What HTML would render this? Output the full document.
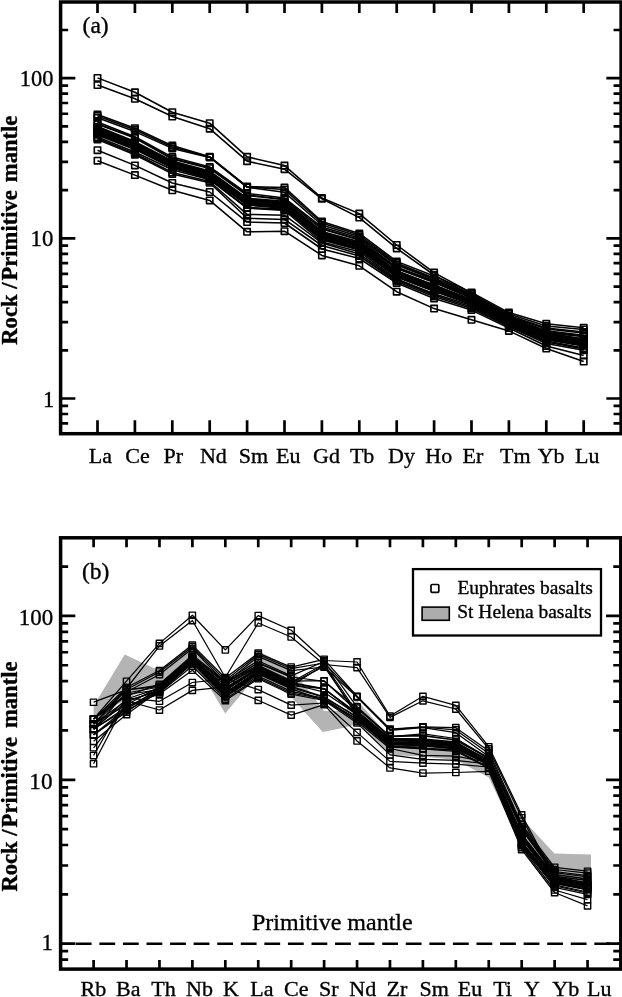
<!DOCTYPE html>
<html lang="en"><head><meta charset="utf-8"><title>REE and multi-element diagrams</title>
<style>html,body{margin:0;padding:0;background:#fff;}svg{display:block;}text{font-family:"Liberation Serif", "Times New Roman", Times, serif;fill:#000;stroke:#000;stroke-width:0.35px;stroke-linejoin:round;}svg{opacity:0.999;will-change:transform;}</style></head><body>
<svg width="622" height="997" viewBox="0 0 622 997">
<rect width="622" height="997" fill="#fff"/>
<polygon points="93.6,706.0 124.7,654.5 159.5,670.7 192.4,643.0 225.3,690.0 258.2,651.0 291.2,668.0 324.1,711.0 343.7,711.0 357.0,700.0 390.0,738.0 422.9,740.0 455.8,745.0 488.8,757.0 525.5,822.3 554.4,853.4 591.0,854.4 591.0,886.0 554.6,880.0 521.7,846.0 488.8,777.5 455.8,760.0 422.9,756.5 390.0,755.0 357.0,724.0 343.7,727.8 322.7,732.1 291.2,697.0 258.2,674.0 225.2,713.6 192.4,658.0 159.5,688.0 147.0,688.5 126.5,699.0 120.0,703.0 93.6,716.0" fill="#b4b4b4"/>
<g fill="none" stroke="#000" stroke-width="1.55" stroke-linejoin="round">
<path d="M97.5 77.9 L134.9 92.3 L172.3 112.2 L209.7 123.2 L247.1 156.8 L284.5 165.6 L321.9 198.0 L359.3 213.6 L396.7 245.0 L434.1 272.6 L471.5 293.0 L508.9 316.0 L546.3 333.0 L583.7 339.0"/>
<rect x="94.3" y="74.7" width="6.4" height="6.4" stroke-width="1.6"/>
<rect x="131.7" y="89.1" width="6.4" height="6.4" stroke-width="1.6"/>
<rect x="169.1" y="109.0" width="6.4" height="6.4" stroke-width="1.6"/>
<rect x="206.5" y="120.0" width="6.4" height="6.4" stroke-width="1.6"/>
<rect x="243.9" y="153.6" width="6.4" height="6.4" stroke-width="1.6"/>
<rect x="281.3" y="162.4" width="6.4" height="6.4" stroke-width="1.6"/>
<rect x="318.7" y="194.8" width="6.4" height="6.4" stroke-width="1.6"/>
<rect x="356.1" y="210.4" width="6.4" height="6.4" stroke-width="1.6"/>
<rect x="393.5" y="241.8" width="6.4" height="6.4" stroke-width="1.6"/>
<rect x="430.9" y="269.4" width="6.4" height="6.4" stroke-width="1.6"/>
<rect x="468.3" y="289.8" width="6.4" height="6.4" stroke-width="1.6"/>
<rect x="505.7" y="312.8" width="6.4" height="6.4" stroke-width="1.6"/>
<rect x="543.1" y="329.8" width="6.4" height="6.4" stroke-width="1.6"/>
<rect x="580.5" y="335.8" width="6.4" height="6.4" stroke-width="1.6"/>
<path d="M97.5 85.1 L134.9 98.8 L172.3 116.5 L209.7 128.7 L247.1 161.2 L284.5 169.2 L321.9 198.8 L359.3 217.6 L396.7 248.4 L434.1 275.0 L471.5 295.5 L508.9 318.5 L546.3 336.0 L583.7 342.5"/>
<rect x="94.3" y="81.9" width="6.4" height="6.4" stroke-width="1.6"/>
<rect x="131.7" y="95.6" width="6.4" height="6.4" stroke-width="1.6"/>
<rect x="169.1" y="113.3" width="6.4" height="6.4" stroke-width="1.6"/>
<rect x="206.5" y="125.5" width="6.4" height="6.4" stroke-width="1.6"/>
<rect x="243.9" y="158.0" width="6.4" height="6.4" stroke-width="1.6"/>
<rect x="281.3" y="166.0" width="6.4" height="6.4" stroke-width="1.6"/>
<rect x="318.7" y="195.6" width="6.4" height="6.4" stroke-width="1.6"/>
<rect x="356.1" y="214.4" width="6.4" height="6.4" stroke-width="1.6"/>
<rect x="393.5" y="245.2" width="6.4" height="6.4" stroke-width="1.6"/>
<rect x="430.9" y="271.8" width="6.4" height="6.4" stroke-width="1.6"/>
<rect x="468.3" y="292.3" width="6.4" height="6.4" stroke-width="1.6"/>
<rect x="505.7" y="315.3" width="6.4" height="6.4" stroke-width="1.6"/>
<rect x="543.1" y="332.8" width="6.4" height="6.4" stroke-width="1.6"/>
<rect x="580.5" y="339.3" width="6.4" height="6.4" stroke-width="1.6"/>
<path d="M97.5 114.6 L134.9 128.2 L172.3 145.6 L209.7 156.7 L247.1 186.6 L284.5 187.4 L321.9 221.5 L359.3 233.4 L396.7 261.4 L434.1 276.0 L471.5 292.4 L508.9 312.6 L546.3 323.8 L583.7 327.7"/>
<rect x="94.3" y="111.4" width="6.4" height="6.4" stroke-width="1.6"/>
<rect x="131.7" y="125.0" width="6.4" height="6.4" stroke-width="1.6"/>
<rect x="169.1" y="142.4" width="6.4" height="6.4" stroke-width="1.6"/>
<rect x="206.5" y="153.5" width="6.4" height="6.4" stroke-width="1.6"/>
<rect x="243.9" y="183.4" width="6.4" height="6.4" stroke-width="1.6"/>
<rect x="281.3" y="184.2" width="6.4" height="6.4" stroke-width="1.6"/>
<rect x="318.7" y="218.3" width="6.4" height="6.4" stroke-width="1.6"/>
<rect x="356.1" y="230.2" width="6.4" height="6.4" stroke-width="1.6"/>
<rect x="393.5" y="258.2" width="6.4" height="6.4" stroke-width="1.6"/>
<rect x="430.9" y="272.8" width="6.4" height="6.4" stroke-width="1.6"/>
<rect x="468.3" y="289.2" width="6.4" height="6.4" stroke-width="1.6"/>
<rect x="505.7" y="309.4" width="6.4" height="6.4" stroke-width="1.6"/>
<rect x="543.1" y="320.6" width="6.4" height="6.4" stroke-width="1.6"/>
<rect x="580.5" y="324.5" width="6.4" height="6.4" stroke-width="1.6"/>
<path d="M97.5 116.0 L134.9 129.8 L172.3 147.0 L209.7 157.0 L247.1 186.9 L284.5 189.6 L321.9 223.0 L359.3 235.0 L396.7 263.0 L434.1 278.0 L471.5 294.0 L508.9 314.0 L546.3 326.0 L583.7 329.5"/>
<rect x="94.3" y="112.8" width="6.4" height="6.4" stroke-width="1.6"/>
<rect x="131.7" y="126.6" width="6.4" height="6.4" stroke-width="1.6"/>
<rect x="169.1" y="143.8" width="6.4" height="6.4" stroke-width="1.6"/>
<rect x="206.5" y="153.8" width="6.4" height="6.4" stroke-width="1.6"/>
<rect x="243.9" y="183.7" width="6.4" height="6.4" stroke-width="1.6"/>
<rect x="281.3" y="186.4" width="6.4" height="6.4" stroke-width="1.6"/>
<rect x="318.7" y="219.8" width="6.4" height="6.4" stroke-width="1.6"/>
<rect x="356.1" y="231.8" width="6.4" height="6.4" stroke-width="1.6"/>
<rect x="393.5" y="259.8" width="6.4" height="6.4" stroke-width="1.6"/>
<rect x="430.9" y="274.8" width="6.4" height="6.4" stroke-width="1.6"/>
<rect x="468.3" y="290.8" width="6.4" height="6.4" stroke-width="1.6"/>
<rect x="505.7" y="310.8" width="6.4" height="6.4" stroke-width="1.6"/>
<rect x="543.1" y="322.8" width="6.4" height="6.4" stroke-width="1.6"/>
<rect x="580.5" y="326.3" width="6.4" height="6.4" stroke-width="1.6"/>
<path d="M97.5 117.8 L134.9 131.6 L172.3 148.4 L209.7 157.4 L247.1 187.3 L284.5 192.3 L321.9 225.0 L359.3 236.6 L396.7 264.5 L434.1 279.5 L471.5 295.5 L508.9 315.5 L546.3 328.0 L583.7 332.0"/>
<rect x="94.3" y="114.6" width="6.4" height="6.4" stroke-width="1.6"/>
<rect x="131.7" y="128.4" width="6.4" height="6.4" stroke-width="1.6"/>
<rect x="169.1" y="145.2" width="6.4" height="6.4" stroke-width="1.6"/>
<rect x="206.5" y="154.2" width="6.4" height="6.4" stroke-width="1.6"/>
<rect x="243.9" y="184.1" width="6.4" height="6.4" stroke-width="1.6"/>
<rect x="281.3" y="189.1" width="6.4" height="6.4" stroke-width="1.6"/>
<rect x="318.7" y="221.8" width="6.4" height="6.4" stroke-width="1.6"/>
<rect x="356.1" y="233.4" width="6.4" height="6.4" stroke-width="1.6"/>
<rect x="393.5" y="261.3" width="6.4" height="6.4" stroke-width="1.6"/>
<rect x="430.9" y="276.3" width="6.4" height="6.4" stroke-width="1.6"/>
<rect x="468.3" y="292.3" width="6.4" height="6.4" stroke-width="1.6"/>
<rect x="505.7" y="312.3" width="6.4" height="6.4" stroke-width="1.6"/>
<rect x="543.1" y="324.8" width="6.4" height="6.4" stroke-width="1.6"/>
<rect x="580.5" y="328.8" width="6.4" height="6.4" stroke-width="1.6"/>
<path d="M97.5 122.0 L134.9 136.8 L172.3 157.1 L209.7 167.0 L247.1 193.5 L284.5 198.0 L321.9 227.0 L359.3 238.0 L396.7 265.0 L434.1 279.1 L471.5 296.0 L508.9 316.0 L546.3 329.0 L583.7 333.1"/>
<rect x="94.3" y="118.8" width="6.4" height="6.4" stroke-width="1.6"/>
<rect x="131.7" y="133.6" width="6.4" height="6.4" stroke-width="1.6"/>
<rect x="169.1" y="153.9" width="6.4" height="6.4" stroke-width="1.6"/>
<rect x="206.5" y="163.8" width="6.4" height="6.4" stroke-width="1.6"/>
<rect x="243.9" y="190.3" width="6.4" height="6.4" stroke-width="1.6"/>
<rect x="281.3" y="194.8" width="6.4" height="6.4" stroke-width="1.6"/>
<rect x="318.7" y="223.8" width="6.4" height="6.4" stroke-width="1.6"/>
<rect x="356.1" y="234.8" width="6.4" height="6.4" stroke-width="1.6"/>
<rect x="393.5" y="261.8" width="6.4" height="6.4" stroke-width="1.6"/>
<rect x="430.9" y="275.9" width="6.4" height="6.4" stroke-width="1.6"/>
<rect x="468.3" y="292.8" width="6.4" height="6.4" stroke-width="1.6"/>
<rect x="505.7" y="312.8" width="6.4" height="6.4" stroke-width="1.6"/>
<rect x="543.1" y="325.8" width="6.4" height="6.4" stroke-width="1.6"/>
<rect x="580.5" y="329.9" width="6.4" height="6.4" stroke-width="1.6"/>
<path d="M97.5 124.0 L134.9 137.9 L172.3 158.8 L209.7 168.2 L247.1 195.3 L284.5 199.5 L321.9 228.7 L359.3 239.8 L396.7 267.4 L434.1 281.0 L471.5 296.9 L508.9 317.3 L546.3 330.9 L583.7 335.4" stroke-width="2.0"/>
<rect x="94.3" y="120.8" width="6.4" height="6.4" stroke-width="1.6"/>
<rect x="131.7" y="134.7" width="6.4" height="6.4" stroke-width="1.6"/>
<rect x="169.1" y="155.6" width="6.4" height="6.4" stroke-width="1.6"/>
<rect x="206.5" y="165.0" width="6.4" height="6.4" stroke-width="1.6"/>
<rect x="243.9" y="192.1" width="6.4" height="6.4" stroke-width="1.6"/>
<rect x="281.3" y="196.3" width="6.4" height="6.4" stroke-width="1.6"/>
<rect x="318.7" y="225.5" width="6.4" height="6.4" stroke-width="1.6"/>
<rect x="356.1" y="236.6" width="6.4" height="6.4" stroke-width="1.6"/>
<rect x="393.5" y="264.2" width="6.4" height="6.4" stroke-width="1.6"/>
<rect x="430.9" y="277.8" width="6.4" height="6.4" stroke-width="1.6"/>
<rect x="468.3" y="293.7" width="6.4" height="6.4" stroke-width="1.6"/>
<rect x="505.7" y="314.1" width="6.4" height="6.4" stroke-width="1.6"/>
<rect x="543.1" y="327.7" width="6.4" height="6.4" stroke-width="1.6"/>
<rect x="580.5" y="332.2" width="6.4" height="6.4" stroke-width="1.6"/>
<path d="M97.5 126.7 L134.9 141.8 L172.3 161.1 L209.7 171.2 L247.1 198.6 L284.5 201.4 L321.9 231.6 L359.3 241.9 L396.7 268.4 L434.1 282.3 L471.5 298.1 L508.9 318.3 L546.3 332.5 L583.7 336.6" stroke-width="2.0"/>
<rect x="94.3" y="123.5" width="6.4" height="6.4" stroke-width="1.6"/>
<rect x="131.7" y="138.6" width="6.4" height="6.4" stroke-width="1.6"/>
<rect x="169.1" y="157.9" width="6.4" height="6.4" stroke-width="1.6"/>
<rect x="206.5" y="168.0" width="6.4" height="6.4" stroke-width="1.6"/>
<rect x="243.9" y="195.4" width="6.4" height="6.4" stroke-width="1.6"/>
<rect x="281.3" y="198.2" width="6.4" height="6.4" stroke-width="1.6"/>
<rect x="318.7" y="228.4" width="6.4" height="6.4" stroke-width="1.6"/>
<rect x="356.1" y="238.7" width="6.4" height="6.4" stroke-width="1.6"/>
<rect x="393.5" y="265.2" width="6.4" height="6.4" stroke-width="1.6"/>
<rect x="430.9" y="279.1" width="6.4" height="6.4" stroke-width="1.6"/>
<rect x="468.3" y="294.9" width="6.4" height="6.4" stroke-width="1.6"/>
<rect x="505.7" y="315.1" width="6.4" height="6.4" stroke-width="1.6"/>
<rect x="543.1" y="329.3" width="6.4" height="6.4" stroke-width="1.6"/>
<rect x="580.5" y="333.4" width="6.4" height="6.4" stroke-width="1.6"/>
<path d="M97.5 127.6 L134.9 143.1 L172.3 162.5 L209.7 172.1 L247.1 199.1 L284.5 202.9 L321.9 233.0 L359.3 243.4 L396.7 271.0 L434.1 285.5 L471.5 300.0 L508.9 319.9 L546.3 334.5 L583.7 339.6" stroke-width="2.0"/>
<rect x="94.3" y="124.4" width="6.4" height="6.4" stroke-width="1.6"/>
<rect x="131.7" y="139.9" width="6.4" height="6.4" stroke-width="1.6"/>
<rect x="169.1" y="159.3" width="6.4" height="6.4" stroke-width="1.6"/>
<rect x="206.5" y="168.9" width="6.4" height="6.4" stroke-width="1.6"/>
<rect x="243.9" y="195.9" width="6.4" height="6.4" stroke-width="1.6"/>
<rect x="281.3" y="199.7" width="6.4" height="6.4" stroke-width="1.6"/>
<rect x="318.7" y="229.8" width="6.4" height="6.4" stroke-width="1.6"/>
<rect x="356.1" y="240.2" width="6.4" height="6.4" stroke-width="1.6"/>
<rect x="393.5" y="267.8" width="6.4" height="6.4" stroke-width="1.6"/>
<rect x="430.9" y="282.3" width="6.4" height="6.4" stroke-width="1.6"/>
<rect x="468.3" y="296.8" width="6.4" height="6.4" stroke-width="1.6"/>
<rect x="505.7" y="316.7" width="6.4" height="6.4" stroke-width="1.6"/>
<rect x="543.1" y="331.3" width="6.4" height="6.4" stroke-width="1.6"/>
<rect x="580.5" y="336.4" width="6.4" height="6.4" stroke-width="1.6"/>
<path d="M97.5 128.5 L134.9 143.4 L172.3 162.7 L209.7 173.1 L247.1 199.8 L284.5 202.8 L321.9 232.4 L359.3 244.1 L396.7 271.6 L434.1 285.2 L471.5 300.3 L508.9 319.4 L546.3 333.6 L583.7 339.8" stroke-width="2.0"/>
<rect x="94.3" y="125.3" width="6.4" height="6.4" stroke-width="1.6"/>
<rect x="131.7" y="140.2" width="6.4" height="6.4" stroke-width="1.6"/>
<rect x="169.1" y="159.5" width="6.4" height="6.4" stroke-width="1.6"/>
<rect x="206.5" y="169.9" width="6.4" height="6.4" stroke-width="1.6"/>
<rect x="243.9" y="196.6" width="6.4" height="6.4" stroke-width="1.6"/>
<rect x="281.3" y="199.6" width="6.4" height="6.4" stroke-width="1.6"/>
<rect x="318.7" y="229.2" width="6.4" height="6.4" stroke-width="1.6"/>
<rect x="356.1" y="240.9" width="6.4" height="6.4" stroke-width="1.6"/>
<rect x="393.5" y="268.4" width="6.4" height="6.4" stroke-width="1.6"/>
<rect x="430.9" y="282.0" width="6.4" height="6.4" stroke-width="1.6"/>
<rect x="468.3" y="297.1" width="6.4" height="6.4" stroke-width="1.6"/>
<rect x="505.7" y="316.2" width="6.4" height="6.4" stroke-width="1.6"/>
<rect x="543.1" y="330.4" width="6.4" height="6.4" stroke-width="1.6"/>
<rect x="580.5" y="336.6" width="6.4" height="6.4" stroke-width="1.6"/>
<path d="M97.5 129.3 L134.9 144.2 L172.3 163.6 L209.7 173.3 L247.1 200.6 L284.5 204.1 L321.9 235.0 L359.3 245.1 L396.7 272.1 L434.1 286.0 L471.5 300.4 L508.9 320.2 L546.3 334.9 L583.7 340.9" stroke-width="2.0"/>
<rect x="94.3" y="126.1" width="6.4" height="6.4" stroke-width="1.6"/>
<rect x="131.7" y="141.0" width="6.4" height="6.4" stroke-width="1.6"/>
<rect x="169.1" y="160.4" width="6.4" height="6.4" stroke-width="1.6"/>
<rect x="206.5" y="170.1" width="6.4" height="6.4" stroke-width="1.6"/>
<rect x="243.9" y="197.4" width="6.4" height="6.4" stroke-width="1.6"/>
<rect x="281.3" y="200.9" width="6.4" height="6.4" stroke-width="1.6"/>
<rect x="318.7" y="231.8" width="6.4" height="6.4" stroke-width="1.6"/>
<rect x="356.1" y="241.9" width="6.4" height="6.4" stroke-width="1.6"/>
<rect x="393.5" y="268.9" width="6.4" height="6.4" stroke-width="1.6"/>
<rect x="430.9" y="282.8" width="6.4" height="6.4" stroke-width="1.6"/>
<rect x="468.3" y="297.2" width="6.4" height="6.4" stroke-width="1.6"/>
<rect x="505.7" y="317.0" width="6.4" height="6.4" stroke-width="1.6"/>
<rect x="543.1" y="331.7" width="6.4" height="6.4" stroke-width="1.6"/>
<rect x="580.5" y="337.7" width="6.4" height="6.4" stroke-width="1.6"/>
<path d="M97.5 129.5 L134.9 143.9 L172.3 163.4 L209.7 174.2 L247.1 202.5 L284.5 204.6 L321.9 234.5 L359.3 245.3 L396.7 272.2 L434.1 286.9 L471.5 301.1 L508.9 320.7 L546.3 335.8 L583.7 341.6" stroke-width="2.0"/>
<rect x="94.3" y="126.3" width="6.4" height="6.4" stroke-width="1.6"/>
<rect x="131.7" y="140.7" width="6.4" height="6.4" stroke-width="1.6"/>
<rect x="169.1" y="160.2" width="6.4" height="6.4" stroke-width="1.6"/>
<rect x="206.5" y="171.0" width="6.4" height="6.4" stroke-width="1.6"/>
<rect x="243.9" y="199.3" width="6.4" height="6.4" stroke-width="1.6"/>
<rect x="281.3" y="201.4" width="6.4" height="6.4" stroke-width="1.6"/>
<rect x="318.7" y="231.3" width="6.4" height="6.4" stroke-width="1.6"/>
<rect x="356.1" y="242.1" width="6.4" height="6.4" stroke-width="1.6"/>
<rect x="393.5" y="269.0" width="6.4" height="6.4" stroke-width="1.6"/>
<rect x="430.9" y="283.7" width="6.4" height="6.4" stroke-width="1.6"/>
<rect x="468.3" y="297.9" width="6.4" height="6.4" stroke-width="1.6"/>
<rect x="505.7" y="317.5" width="6.4" height="6.4" stroke-width="1.6"/>
<rect x="543.1" y="332.6" width="6.4" height="6.4" stroke-width="1.6"/>
<rect x="580.5" y="338.4" width="6.4" height="6.4" stroke-width="1.6"/>
<path d="M97.5 130.7 L134.9 144.7 L172.3 163.9 L209.7 174.6 L247.1 202.8 L284.5 205.4 L321.9 235.4 L359.3 246.5 L396.7 272.8 L434.1 288.0 L471.5 302.3 L508.9 321.7 L546.3 336.8 L583.7 342.2" stroke-width="2.0"/>
<rect x="94.3" y="127.5" width="6.4" height="6.4" stroke-width="1.6"/>
<rect x="131.7" y="141.5" width="6.4" height="6.4" stroke-width="1.6"/>
<rect x="169.1" y="160.7" width="6.4" height="6.4" stroke-width="1.6"/>
<rect x="206.5" y="171.4" width="6.4" height="6.4" stroke-width="1.6"/>
<rect x="243.9" y="199.6" width="6.4" height="6.4" stroke-width="1.6"/>
<rect x="281.3" y="202.2" width="6.4" height="6.4" stroke-width="1.6"/>
<rect x="318.7" y="232.2" width="6.4" height="6.4" stroke-width="1.6"/>
<rect x="356.1" y="243.3" width="6.4" height="6.4" stroke-width="1.6"/>
<rect x="393.5" y="269.6" width="6.4" height="6.4" stroke-width="1.6"/>
<rect x="430.9" y="284.8" width="6.4" height="6.4" stroke-width="1.6"/>
<rect x="468.3" y="299.1" width="6.4" height="6.4" stroke-width="1.6"/>
<rect x="505.7" y="318.5" width="6.4" height="6.4" stroke-width="1.6"/>
<rect x="543.1" y="333.6" width="6.4" height="6.4" stroke-width="1.6"/>
<rect x="580.5" y="339.0" width="6.4" height="6.4" stroke-width="1.6"/>
<path d="M97.5 131.6 L134.9 146.4 L172.3 165.9 L209.7 175.0 L247.1 202.4 L284.5 205.2 L321.9 236.3 L359.3 246.3 L396.7 272.9 L434.1 288.0 L471.5 302.6 L508.9 321.7 L546.3 336.5 L583.7 342.7" stroke-width="2.0"/>
<rect x="94.3" y="128.4" width="6.4" height="6.4" stroke-width="1.6"/>
<rect x="131.7" y="143.2" width="6.4" height="6.4" stroke-width="1.6"/>
<rect x="169.1" y="162.7" width="6.4" height="6.4" stroke-width="1.6"/>
<rect x="206.5" y="171.8" width="6.4" height="6.4" stroke-width="1.6"/>
<rect x="243.9" y="199.2" width="6.4" height="6.4" stroke-width="1.6"/>
<rect x="281.3" y="202.0" width="6.4" height="6.4" stroke-width="1.6"/>
<rect x="318.7" y="233.1" width="6.4" height="6.4" stroke-width="1.6"/>
<rect x="356.1" y="243.1" width="6.4" height="6.4" stroke-width="1.6"/>
<rect x="393.5" y="269.7" width="6.4" height="6.4" stroke-width="1.6"/>
<rect x="430.9" y="284.8" width="6.4" height="6.4" stroke-width="1.6"/>
<rect x="468.3" y="299.4" width="6.4" height="6.4" stroke-width="1.6"/>
<rect x="505.7" y="318.5" width="6.4" height="6.4" stroke-width="1.6"/>
<rect x="543.1" y="333.3" width="6.4" height="6.4" stroke-width="1.6"/>
<rect x="580.5" y="339.5" width="6.4" height="6.4" stroke-width="1.6"/>
<path d="M97.5 132.6 L134.9 146.6 L172.3 166.3 L209.7 175.7 L247.1 203.4 L284.5 206.0 L321.9 236.6 L359.3 246.7 L396.7 274.7 L434.1 289.0 L471.5 302.9 L508.9 322.6 L546.3 337.9 L583.7 343.9" stroke-width="2.0"/>
<rect x="94.3" y="129.4" width="6.4" height="6.4" stroke-width="1.6"/>
<rect x="131.7" y="143.4" width="6.4" height="6.4" stroke-width="1.6"/>
<rect x="169.1" y="163.1" width="6.4" height="6.4" stroke-width="1.6"/>
<rect x="206.5" y="172.5" width="6.4" height="6.4" stroke-width="1.6"/>
<rect x="243.9" y="200.2" width="6.4" height="6.4" stroke-width="1.6"/>
<rect x="281.3" y="202.8" width="6.4" height="6.4" stroke-width="1.6"/>
<rect x="318.7" y="233.4" width="6.4" height="6.4" stroke-width="1.6"/>
<rect x="356.1" y="243.5" width="6.4" height="6.4" stroke-width="1.6"/>
<rect x="393.5" y="271.5" width="6.4" height="6.4" stroke-width="1.6"/>
<rect x="430.9" y="285.8" width="6.4" height="6.4" stroke-width="1.6"/>
<rect x="468.3" y="299.7" width="6.4" height="6.4" stroke-width="1.6"/>
<rect x="505.7" y="319.4" width="6.4" height="6.4" stroke-width="1.6"/>
<rect x="543.1" y="334.7" width="6.4" height="6.4" stroke-width="1.6"/>
<rect x="580.5" y="340.7" width="6.4" height="6.4" stroke-width="1.6"/>
<path d="M97.5 132.3 L134.9 147.0 L172.3 166.5 L209.7 177.0 L247.1 204.4 L284.5 207.6 L321.9 238.0 L359.3 248.8 L396.7 275.2 L434.1 290.6 L471.5 303.7 L508.9 322.4 L546.3 338.1 L583.7 344.1" stroke-width="2.0"/>
<rect x="94.3" y="129.1" width="6.4" height="6.4" stroke-width="1.6"/>
<rect x="131.7" y="143.8" width="6.4" height="6.4" stroke-width="1.6"/>
<rect x="169.1" y="163.3" width="6.4" height="6.4" stroke-width="1.6"/>
<rect x="206.5" y="173.8" width="6.4" height="6.4" stroke-width="1.6"/>
<rect x="243.9" y="201.2" width="6.4" height="6.4" stroke-width="1.6"/>
<rect x="281.3" y="204.4" width="6.4" height="6.4" stroke-width="1.6"/>
<rect x="318.7" y="234.8" width="6.4" height="6.4" stroke-width="1.6"/>
<rect x="356.1" y="245.6" width="6.4" height="6.4" stroke-width="1.6"/>
<rect x="393.5" y="272.0" width="6.4" height="6.4" stroke-width="1.6"/>
<rect x="430.9" y="287.4" width="6.4" height="6.4" stroke-width="1.6"/>
<rect x="468.3" y="300.5" width="6.4" height="6.4" stroke-width="1.6"/>
<rect x="505.7" y="319.2" width="6.4" height="6.4" stroke-width="1.6"/>
<rect x="543.1" y="334.9" width="6.4" height="6.4" stroke-width="1.6"/>
<rect x="580.5" y="340.9" width="6.4" height="6.4" stroke-width="1.6"/>
<path d="M97.5 133.6 L134.9 148.2 L172.3 167.2 L209.7 177.2 L247.1 204.9 L284.5 207.9 L321.9 238.2 L359.3 249.2 L396.7 276.4 L434.1 290.6 L471.5 303.9 L508.9 323.1 L546.3 338.6 L583.7 345.4" stroke-width="2.0"/>
<rect x="94.3" y="130.4" width="6.4" height="6.4" stroke-width="1.6"/>
<rect x="131.7" y="145.0" width="6.4" height="6.4" stroke-width="1.6"/>
<rect x="169.1" y="164.0" width="6.4" height="6.4" stroke-width="1.6"/>
<rect x="206.5" y="174.0" width="6.4" height="6.4" stroke-width="1.6"/>
<rect x="243.9" y="201.7" width="6.4" height="6.4" stroke-width="1.6"/>
<rect x="281.3" y="204.7" width="6.4" height="6.4" stroke-width="1.6"/>
<rect x="318.7" y="235.0" width="6.4" height="6.4" stroke-width="1.6"/>
<rect x="356.1" y="246.0" width="6.4" height="6.4" stroke-width="1.6"/>
<rect x="393.5" y="273.2" width="6.4" height="6.4" stroke-width="1.6"/>
<rect x="430.9" y="287.4" width="6.4" height="6.4" stroke-width="1.6"/>
<rect x="468.3" y="300.7" width="6.4" height="6.4" stroke-width="1.6"/>
<rect x="505.7" y="319.9" width="6.4" height="6.4" stroke-width="1.6"/>
<rect x="543.1" y="335.4" width="6.4" height="6.4" stroke-width="1.6"/>
<rect x="580.5" y="342.2" width="6.4" height="6.4" stroke-width="1.6"/>
<path d="M97.5 134.7 L134.9 149.2 L172.3 167.8 L209.7 178.7 L247.1 207.7 L284.5 209.2 L321.9 239.8 L359.3 249.8 L396.7 276.7 L434.1 291.1 L471.5 304.1 L508.9 323.8 L546.3 339.6 L583.7 345.7" stroke-width="2.0"/>
<rect x="94.3" y="131.5" width="6.4" height="6.4" stroke-width="1.6"/>
<rect x="131.7" y="146.0" width="6.4" height="6.4" stroke-width="1.6"/>
<rect x="169.1" y="164.6" width="6.4" height="6.4" stroke-width="1.6"/>
<rect x="206.5" y="175.5" width="6.4" height="6.4" stroke-width="1.6"/>
<rect x="243.9" y="204.5" width="6.4" height="6.4" stroke-width="1.6"/>
<rect x="281.3" y="206.0" width="6.4" height="6.4" stroke-width="1.6"/>
<rect x="318.7" y="236.6" width="6.4" height="6.4" stroke-width="1.6"/>
<rect x="356.1" y="246.6" width="6.4" height="6.4" stroke-width="1.6"/>
<rect x="393.5" y="273.5" width="6.4" height="6.4" stroke-width="1.6"/>
<rect x="430.9" y="287.9" width="6.4" height="6.4" stroke-width="1.6"/>
<rect x="468.3" y="300.9" width="6.4" height="6.4" stroke-width="1.6"/>
<rect x="505.7" y="320.6" width="6.4" height="6.4" stroke-width="1.6"/>
<rect x="543.1" y="336.4" width="6.4" height="6.4" stroke-width="1.6"/>
<rect x="580.5" y="342.5" width="6.4" height="6.4" stroke-width="1.6"/>
<path d="M97.5 137.0 L134.9 152.0 L172.3 169.8 L209.7 179.7 L247.1 208.1 L284.5 210.5 L321.9 242.0 L359.3 251.7 L396.7 279.0 L434.1 293.8 L471.5 305.5 L508.9 325.0 L546.3 340.9 L583.7 348.0"/>
<rect x="94.3" y="133.8" width="6.4" height="6.4" stroke-width="1.6"/>
<rect x="131.7" y="148.8" width="6.4" height="6.4" stroke-width="1.6"/>
<rect x="169.1" y="166.6" width="6.4" height="6.4" stroke-width="1.6"/>
<rect x="206.5" y="176.5" width="6.4" height="6.4" stroke-width="1.6"/>
<rect x="243.9" y="204.9" width="6.4" height="6.4" stroke-width="1.6"/>
<rect x="281.3" y="207.3" width="6.4" height="6.4" stroke-width="1.6"/>
<rect x="318.7" y="238.8" width="6.4" height="6.4" stroke-width="1.6"/>
<rect x="356.1" y="248.5" width="6.4" height="6.4" stroke-width="1.6"/>
<rect x="393.5" y="275.8" width="6.4" height="6.4" stroke-width="1.6"/>
<rect x="430.9" y="290.6" width="6.4" height="6.4" stroke-width="1.6"/>
<rect x="468.3" y="302.3" width="6.4" height="6.4" stroke-width="1.6"/>
<rect x="505.7" y="321.8" width="6.4" height="6.4" stroke-width="1.6"/>
<rect x="543.1" y="337.7" width="6.4" height="6.4" stroke-width="1.6"/>
<rect x="580.5" y="344.8" width="6.4" height="6.4" stroke-width="1.6"/>
<path d="M97.5 138.5 L134.9 153.5 L172.3 172.5 L209.7 181.5 L247.1 214.4 L284.5 215.2 L321.9 243.0 L359.3 254.0 L396.7 280.0 L434.1 295.0 L471.5 307.0 L508.9 325.5 L546.3 342.0 L583.7 349.0"/>
<rect x="94.3" y="135.3" width="6.4" height="6.4" stroke-width="1.6"/>
<rect x="131.7" y="150.3" width="6.4" height="6.4" stroke-width="1.6"/>
<rect x="169.1" y="169.3" width="6.4" height="6.4" stroke-width="1.6"/>
<rect x="206.5" y="178.3" width="6.4" height="6.4" stroke-width="1.6"/>
<rect x="243.9" y="211.2" width="6.4" height="6.4" stroke-width="1.6"/>
<rect x="281.3" y="212.0" width="6.4" height="6.4" stroke-width="1.6"/>
<rect x="318.7" y="239.8" width="6.4" height="6.4" stroke-width="1.6"/>
<rect x="356.1" y="250.8" width="6.4" height="6.4" stroke-width="1.6"/>
<rect x="393.5" y="276.8" width="6.4" height="6.4" stroke-width="1.6"/>
<rect x="430.9" y="291.8" width="6.4" height="6.4" stroke-width="1.6"/>
<rect x="468.3" y="303.8" width="6.4" height="6.4" stroke-width="1.6"/>
<rect x="505.7" y="322.3" width="6.4" height="6.4" stroke-width="1.6"/>
<rect x="543.1" y="338.8" width="6.4" height="6.4" stroke-width="1.6"/>
<rect x="580.5" y="345.8" width="6.4" height="6.4" stroke-width="1.6"/>
<path d="M97.5 139.6 L134.9 154.7 L172.3 173.9 L209.7 182.8 L247.1 218.3 L284.5 219.4 L321.9 245.5 L359.3 256.0 L396.7 281.5 L434.1 296.5 L471.5 308.5 L508.9 326.5 L546.3 343.5 L583.7 350.3"/>
<rect x="94.3" y="136.4" width="6.4" height="6.4" stroke-width="1.6"/>
<rect x="131.7" y="151.5" width="6.4" height="6.4" stroke-width="1.6"/>
<rect x="169.1" y="170.7" width="6.4" height="6.4" stroke-width="1.6"/>
<rect x="206.5" y="179.6" width="6.4" height="6.4" stroke-width="1.6"/>
<rect x="243.9" y="215.1" width="6.4" height="6.4" stroke-width="1.6"/>
<rect x="281.3" y="216.2" width="6.4" height="6.4" stroke-width="1.6"/>
<rect x="318.7" y="242.3" width="6.4" height="6.4" stroke-width="1.6"/>
<rect x="356.1" y="252.8" width="6.4" height="6.4" stroke-width="1.6"/>
<rect x="393.5" y="278.3" width="6.4" height="6.4" stroke-width="1.6"/>
<rect x="430.9" y="293.3" width="6.4" height="6.4" stroke-width="1.6"/>
<rect x="468.3" y="305.3" width="6.4" height="6.4" stroke-width="1.6"/>
<rect x="505.7" y="323.3" width="6.4" height="6.4" stroke-width="1.6"/>
<rect x="543.1" y="340.3" width="6.4" height="6.4" stroke-width="1.6"/>
<rect x="580.5" y="347.1" width="6.4" height="6.4" stroke-width="1.6"/>
<path d="M97.5 150.2 L134.9 165.4 L172.3 183.0 L209.7 192.0 L247.1 222.1 L284.5 223.0 L321.9 249.0 L359.3 258.5 L396.7 283.0 L434.1 298.5 L471.5 310.1 L508.9 328.0 L546.3 346.0 L583.7 355.4"/>
<rect x="94.3" y="147.0" width="6.4" height="6.4" stroke-width="1.6"/>
<rect x="131.7" y="162.2" width="6.4" height="6.4" stroke-width="1.6"/>
<rect x="169.1" y="179.8" width="6.4" height="6.4" stroke-width="1.6"/>
<rect x="206.5" y="188.8" width="6.4" height="6.4" stroke-width="1.6"/>
<rect x="243.9" y="218.9" width="6.4" height="6.4" stroke-width="1.6"/>
<rect x="281.3" y="219.8" width="6.4" height="6.4" stroke-width="1.6"/>
<rect x="318.7" y="245.8" width="6.4" height="6.4" stroke-width="1.6"/>
<rect x="356.1" y="255.3" width="6.4" height="6.4" stroke-width="1.6"/>
<rect x="393.5" y="279.8" width="6.4" height="6.4" stroke-width="1.6"/>
<rect x="430.9" y="295.3" width="6.4" height="6.4" stroke-width="1.6"/>
<rect x="468.3" y="306.9" width="6.4" height="6.4" stroke-width="1.6"/>
<rect x="505.7" y="324.8" width="6.4" height="6.4" stroke-width="1.6"/>
<rect x="543.1" y="342.8" width="6.4" height="6.4" stroke-width="1.6"/>
<rect x="580.5" y="352.2" width="6.4" height="6.4" stroke-width="1.6"/>
<path d="M97.5 160.7 L134.9 175.1 L172.3 190.3 L209.7 200.4 L247.1 231.8 L284.5 231.2 L321.9 255.4 L359.3 265.8 L396.7 291.7 L434.1 308.6 L471.5 319.8 L508.9 330.9 L546.3 348.5 L583.7 361.5"/>
<rect x="94.3" y="157.5" width="6.4" height="6.4" stroke-width="1.6"/>
<rect x="131.7" y="171.9" width="6.4" height="6.4" stroke-width="1.6"/>
<rect x="169.1" y="187.1" width="6.4" height="6.4" stroke-width="1.6"/>
<rect x="206.5" y="197.2" width="6.4" height="6.4" stroke-width="1.6"/>
<rect x="243.9" y="228.6" width="6.4" height="6.4" stroke-width="1.6"/>
<rect x="281.3" y="228.0" width="6.4" height="6.4" stroke-width="1.6"/>
<rect x="318.7" y="252.2" width="6.4" height="6.4" stroke-width="1.6"/>
<rect x="356.1" y="262.6" width="6.4" height="6.4" stroke-width="1.6"/>
<rect x="393.5" y="288.5" width="6.4" height="6.4" stroke-width="1.6"/>
<rect x="430.9" y="305.4" width="6.4" height="6.4" stroke-width="1.6"/>
<rect x="468.3" y="316.6" width="6.4" height="6.4" stroke-width="1.6"/>
<rect x="505.7" y="327.7" width="6.4" height="6.4" stroke-width="1.6"/>
<rect x="543.1" y="345.3" width="6.4" height="6.4" stroke-width="1.6"/>
<rect x="580.5" y="358.3" width="6.4" height="6.4" stroke-width="1.6"/>
</g>
<g fill="none" stroke="#000" stroke-width="1.25" stroke-linejoin="round">
<path d="M93.6 718.9 L126.5 681.2 L159.5 643.4 L192.4 615.2 L225.3 649.9 L258.2 615.6 L291.2 630.3 L324.1 660.5 L357.0 662.0 L390.0 716.0 L422.9 696.3 L455.8 705.3 L488.8 746.7 L521.7 814.9 L554.6 876.7 L587.5 882.8"/>
<rect x="90.4" y="715.8" width="6.3" height="6.3" stroke-width="1.4"/>
<rect x="123.4" y="678.1" width="6.3" height="6.3" stroke-width="1.4"/>
<rect x="156.3" y="640.2" width="6.3" height="6.3" stroke-width="1.4"/>
<rect x="189.2" y="612.1" width="6.3" height="6.3" stroke-width="1.4"/>
<rect x="222.2" y="646.8" width="6.3" height="6.3" stroke-width="1.4"/>
<rect x="255.1" y="612.4" width="6.3" height="6.3" stroke-width="1.4"/>
<rect x="288.0" y="627.2" width="6.3" height="6.3" stroke-width="1.4"/>
<rect x="321.0" y="657.4" width="6.3" height="6.3" stroke-width="1.4"/>
<rect x="353.9" y="658.8" width="6.3" height="6.3" stroke-width="1.4"/>
<rect x="386.8" y="712.9" width="6.3" height="6.3" stroke-width="1.4"/>
<rect x="419.8" y="693.2" width="6.3" height="6.3" stroke-width="1.4"/>
<rect x="452.7" y="702.2" width="6.3" height="6.3" stroke-width="1.4"/>
<rect x="485.6" y="743.6" width="6.3" height="6.3" stroke-width="1.4"/>
<rect x="518.5" y="811.8" width="6.3" height="6.3" stroke-width="1.4"/>
<rect x="551.5" y="873.5" width="6.3" height="6.3" stroke-width="1.4"/>
<rect x="584.4" y="879.7" width="6.3" height="6.3" stroke-width="1.4"/>
<path d="M93.6 723.9 L126.5 688.5 L159.5 645.9 L192.4 620.5 L225.3 677.5 L258.2 623.0 L291.2 637.0 L324.1 664.5 L357.0 667.6 L390.0 717.4 L422.9 700.8 L455.8 709.0 L488.8 748.9 L521.7 817.8 L554.6 879.7 L587.5 886.4"/>
<rect x="90.4" y="720.8" width="6.3" height="6.3" stroke-width="1.4"/>
<rect x="123.4" y="685.4" width="6.3" height="6.3" stroke-width="1.4"/>
<rect x="156.3" y="642.8" width="6.3" height="6.3" stroke-width="1.4"/>
<rect x="189.2" y="617.4" width="6.3" height="6.3" stroke-width="1.4"/>
<rect x="222.2" y="674.4" width="6.3" height="6.3" stroke-width="1.4"/>
<rect x="255.1" y="619.8" width="6.3" height="6.3" stroke-width="1.4"/>
<rect x="288.0" y="633.8" width="6.3" height="6.3" stroke-width="1.4"/>
<rect x="321.0" y="661.4" width="6.3" height="6.3" stroke-width="1.4"/>
<rect x="353.9" y="664.4" width="6.3" height="6.3" stroke-width="1.4"/>
<rect x="386.8" y="714.2" width="6.3" height="6.3" stroke-width="1.4"/>
<rect x="419.8" y="697.7" width="6.3" height="6.3" stroke-width="1.4"/>
<rect x="452.7" y="705.9" width="6.3" height="6.3" stroke-width="1.4"/>
<rect x="485.6" y="745.8" width="6.3" height="6.3" stroke-width="1.4"/>
<rect x="518.5" y="814.6" width="6.3" height="6.3" stroke-width="1.4"/>
<rect x="551.5" y="876.6" width="6.3" height="6.3" stroke-width="1.4"/>
<rect x="584.4" y="883.2" width="6.3" height="6.3" stroke-width="1.4"/>
<path d="M93.6 718.9 L126.5 687.5 L159.5 670.5 L192.4 645.1 L225.3 678.0 L258.2 653.2 L291.2 667.1 L324.1 659.3 L357.0 696.2 L390.0 729.0 L422.9 726.8 L455.8 727.7 L488.8 751.0 L521.7 824.5 L554.6 867.3 L587.5 871.2"/>
<rect x="90.4" y="715.8" width="6.3" height="6.3" stroke-width="1.4"/>
<rect x="123.4" y="684.4" width="6.3" height="6.3" stroke-width="1.4"/>
<rect x="156.3" y="667.4" width="6.3" height="6.3" stroke-width="1.4"/>
<rect x="189.2" y="642.0" width="6.3" height="6.3" stroke-width="1.4"/>
<rect x="222.2" y="674.9" width="6.3" height="6.3" stroke-width="1.4"/>
<rect x="255.1" y="650.0" width="6.3" height="6.3" stroke-width="1.4"/>
<rect x="288.0" y="663.9" width="6.3" height="6.3" stroke-width="1.4"/>
<rect x="321.0" y="656.1" width="6.3" height="6.3" stroke-width="1.4"/>
<rect x="353.9" y="693.1" width="6.3" height="6.3" stroke-width="1.4"/>
<rect x="386.8" y="725.9" width="6.3" height="6.3" stroke-width="1.4"/>
<rect x="419.8" y="723.7" width="6.3" height="6.3" stroke-width="1.4"/>
<rect x="452.7" y="724.5" width="6.3" height="6.3" stroke-width="1.4"/>
<rect x="485.6" y="747.9" width="6.3" height="6.3" stroke-width="1.4"/>
<rect x="518.5" y="821.4" width="6.3" height="6.3" stroke-width="1.4"/>
<rect x="551.5" y="864.1" width="6.3" height="6.3" stroke-width="1.4"/>
<rect x="584.4" y="868.1" width="6.3" height="6.3" stroke-width="1.4"/>
<path d="M93.6 723.9 L126.5 689.5 L159.5 672.0 L192.4 646.8 L225.3 680.5 L258.2 654.6 L291.2 668.7 L324.1 663.0 L357.0 696.5 L390.0 729.6 L422.9 727.1 L455.8 729.9 L488.8 753.5 L521.7 826.5 L554.6 869.5 L587.5 873.1"/>
<rect x="90.4" y="720.8" width="6.3" height="6.3" stroke-width="1.4"/>
<rect x="123.4" y="686.4" width="6.3" height="6.3" stroke-width="1.4"/>
<rect x="156.3" y="668.9" width="6.3" height="6.3" stroke-width="1.4"/>
<rect x="189.2" y="643.6" width="6.3" height="6.3" stroke-width="1.4"/>
<rect x="222.2" y="677.4" width="6.3" height="6.3" stroke-width="1.4"/>
<rect x="255.1" y="651.4" width="6.3" height="6.3" stroke-width="1.4"/>
<rect x="288.0" y="665.6" width="6.3" height="6.3" stroke-width="1.4"/>
<rect x="321.0" y="659.9" width="6.3" height="6.3" stroke-width="1.4"/>
<rect x="353.9" y="693.4" width="6.3" height="6.3" stroke-width="1.4"/>
<rect x="386.8" y="726.5" width="6.3" height="6.3" stroke-width="1.4"/>
<rect x="419.8" y="724.0" width="6.3" height="6.3" stroke-width="1.4"/>
<rect x="452.7" y="726.8" width="6.3" height="6.3" stroke-width="1.4"/>
<rect x="485.6" y="750.4" width="6.3" height="6.3" stroke-width="1.4"/>
<rect x="518.5" y="823.4" width="6.3" height="6.3" stroke-width="1.4"/>
<rect x="551.5" y="866.4" width="6.3" height="6.3" stroke-width="1.4"/>
<rect x="584.4" y="869.9" width="6.3" height="6.3" stroke-width="1.4"/>
<path d="M93.6 729.0 L126.5 692.0 L159.5 674.5 L192.4 648.5 L225.3 683.0 L258.2 656.4 L291.2 670.6 L324.1 667.0 L357.0 697.0 L390.0 730.4 L422.9 727.6 L455.8 732.7 L488.8 756.5 L521.7 828.5 L554.6 871.5 L587.5 875.6"/>
<rect x="90.4" y="725.9" width="6.3" height="6.3" stroke-width="1.4"/>
<rect x="123.4" y="688.9" width="6.3" height="6.3" stroke-width="1.4"/>
<rect x="156.3" y="671.4" width="6.3" height="6.3" stroke-width="1.4"/>
<rect x="189.2" y="645.4" width="6.3" height="6.3" stroke-width="1.4"/>
<rect x="222.2" y="679.9" width="6.3" height="6.3" stroke-width="1.4"/>
<rect x="255.1" y="653.3" width="6.3" height="6.3" stroke-width="1.4"/>
<rect x="288.0" y="667.4" width="6.3" height="6.3" stroke-width="1.4"/>
<rect x="321.0" y="663.9" width="6.3" height="6.3" stroke-width="1.4"/>
<rect x="353.9" y="693.8" width="6.3" height="6.3" stroke-width="1.4"/>
<rect x="386.8" y="727.2" width="6.3" height="6.3" stroke-width="1.4"/>
<rect x="419.8" y="724.4" width="6.3" height="6.3" stroke-width="1.4"/>
<rect x="452.7" y="729.5" width="6.3" height="6.3" stroke-width="1.4"/>
<rect x="485.6" y="753.4" width="6.3" height="6.3" stroke-width="1.4"/>
<rect x="518.5" y="825.4" width="6.3" height="6.3" stroke-width="1.4"/>
<rect x="551.5" y="868.4" width="6.3" height="6.3" stroke-width="1.4"/>
<rect x="584.4" y="872.5" width="6.3" height="6.3" stroke-width="1.4"/>
<path d="M93.6 718.9 L126.5 696.0 L159.5 684.2 L192.4 655.1 L225.3 681.3 L258.2 660.7 L291.2 675.9 L324.1 661.5 L357.0 706.8 L390.0 736.7 L422.9 733.9 L455.8 738.5 L488.8 758.1 L521.7 828.0 L554.6 872.6 L587.5 876.8"/>
<rect x="90.4" y="715.8" width="6.3" height="6.3" stroke-width="1.4"/>
<rect x="123.4" y="692.9" width="6.3" height="6.3" stroke-width="1.4"/>
<rect x="156.3" y="681.1" width="6.3" height="6.3" stroke-width="1.4"/>
<rect x="189.2" y="652.0" width="6.3" height="6.3" stroke-width="1.4"/>
<rect x="222.2" y="678.1" width="6.3" height="6.3" stroke-width="1.4"/>
<rect x="255.1" y="657.6" width="6.3" height="6.3" stroke-width="1.4"/>
<rect x="288.0" y="672.7" width="6.3" height="6.3" stroke-width="1.4"/>
<rect x="321.0" y="658.4" width="6.3" height="6.3" stroke-width="1.4"/>
<rect x="353.9" y="703.6" width="6.3" height="6.3" stroke-width="1.4"/>
<rect x="386.8" y="733.6" width="6.3" height="6.3" stroke-width="1.4"/>
<rect x="419.8" y="730.7" width="6.3" height="6.3" stroke-width="1.4"/>
<rect x="452.7" y="735.4" width="6.3" height="6.3" stroke-width="1.4"/>
<rect x="485.6" y="755.0" width="6.3" height="6.3" stroke-width="1.4"/>
<rect x="518.5" y="824.9" width="6.3" height="6.3" stroke-width="1.4"/>
<rect x="551.5" y="869.4" width="6.3" height="6.3" stroke-width="1.4"/>
<rect x="584.4" y="873.6" width="6.3" height="6.3" stroke-width="1.4"/>
<path d="M93.6 719.4 L126.5 690.0 L159.5 685.0" stroke-width="1.25"/>
<path d="M159.5 685.0 L192.4 656.7" stroke-width="1.8"/>
<path d="M192.4 656.7 L225.3 683.0 L258.2 662.8" stroke-width="1.6"/>
<path d="M258.2 662.8 L291.2 677.0" stroke-width="1.8"/>
<path d="M291.2 677.0 L324.1 681.3 L357.0 708.0" stroke-width="1.25"/>
<path d="M357.0 708.0 L390.0 736.4 L422.9 735.7 L455.8 740.0" stroke-width="1.7"/>
<path d="M455.8 740.0 L488.8 758.3 L521.7 829.3" stroke-width="1.6"/>
<path d="M521.7 829.3 L554.6 874.5 L587.5 879.1" stroke-width="1.5"/>
<rect x="90.4" y="716.2" width="6.3" height="6.3" stroke-width="1.4"/>
<rect x="123.4" y="686.9" width="6.3" height="6.3" stroke-width="1.4"/>
<rect x="156.3" y="681.9" width="6.3" height="6.3" stroke-width="1.4"/>
<rect x="189.2" y="653.6" width="6.3" height="6.3" stroke-width="1.4"/>
<rect x="222.2" y="679.9" width="6.3" height="6.3" stroke-width="1.4"/>
<rect x="255.1" y="659.6" width="6.3" height="6.3" stroke-width="1.4"/>
<rect x="288.0" y="673.8" width="6.3" height="6.3" stroke-width="1.4"/>
<rect x="321.0" y="678.1" width="6.3" height="6.3" stroke-width="1.4"/>
<rect x="353.9" y="704.9" width="6.3" height="6.3" stroke-width="1.4"/>
<rect x="386.8" y="733.2" width="6.3" height="6.3" stroke-width="1.4"/>
<rect x="419.8" y="732.6" width="6.3" height="6.3" stroke-width="1.4"/>
<rect x="452.7" y="736.9" width="6.3" height="6.3" stroke-width="1.4"/>
<rect x="485.6" y="755.1" width="6.3" height="6.3" stroke-width="1.4"/>
<rect x="518.5" y="826.1" width="6.3" height="6.3" stroke-width="1.4"/>
<rect x="551.5" y="871.4" width="6.3" height="6.3" stroke-width="1.4"/>
<rect x="584.4" y="876.0" width="6.3" height="6.3" stroke-width="1.4"/>
<path d="M93.6 702.2 L126.5 689.9 L159.5 686.3" stroke-width="1.25"/>
<path d="M159.5 686.3 L192.4 657.2" stroke-width="1.8"/>
<path d="M192.4 657.2 L225.3 682.8 L258.2 665.5" stroke-width="1.6"/>
<path d="M258.2 665.5 L291.2 681.0" stroke-width="1.8"/>
<path d="M291.2 681.0 L324.1 680.7 L357.0 711.1" stroke-width="1.25"/>
<path d="M357.0 711.1 L390.0 738.6 L422.9 739.1 L455.8 742.0" stroke-width="1.7"/>
<path d="M455.8 742.0 L488.8 761.1 L521.7 834.3" stroke-width="1.6"/>
<path d="M521.7 834.3 L554.6 876.2 L587.5 880.4" stroke-width="1.5"/>
<rect x="90.4" y="699.1" width="6.3" height="6.3" stroke-width="1.4"/>
<rect x="123.4" y="686.8" width="6.3" height="6.3" stroke-width="1.4"/>
<rect x="156.3" y="683.1" width="6.3" height="6.3" stroke-width="1.4"/>
<rect x="189.2" y="654.1" width="6.3" height="6.3" stroke-width="1.4"/>
<rect x="222.2" y="679.6" width="6.3" height="6.3" stroke-width="1.4"/>
<rect x="255.1" y="662.4" width="6.3" height="6.3" stroke-width="1.4"/>
<rect x="288.0" y="677.8" width="6.3" height="6.3" stroke-width="1.4"/>
<rect x="321.0" y="677.6" width="6.3" height="6.3" stroke-width="1.4"/>
<rect x="353.9" y="707.9" width="6.3" height="6.3" stroke-width="1.4"/>
<rect x="386.8" y="735.5" width="6.3" height="6.3" stroke-width="1.4"/>
<rect x="419.8" y="736.0" width="6.3" height="6.3" stroke-width="1.4"/>
<rect x="452.7" y="738.8" width="6.3" height="6.3" stroke-width="1.4"/>
<rect x="485.6" y="758.0" width="6.3" height="6.3" stroke-width="1.4"/>
<rect x="518.5" y="831.1" width="6.3" height="6.3" stroke-width="1.4"/>
<rect x="551.5" y="873.0" width="6.3" height="6.3" stroke-width="1.4"/>
<rect x="584.4" y="877.2" width="6.3" height="6.3" stroke-width="1.4"/>
<path d="M93.6 723.9 L126.5 705.0 L159.5 686.5" stroke-width="1.25"/>
<path d="M159.5 686.5 L192.4 658.8" stroke-width="1.8"/>
<path d="M192.4 658.8 L225.3 685.3 L258.2 666.5" stroke-width="1.6"/>
<path d="M258.2 666.5 L291.2 682.3" stroke-width="1.8"/>
<path d="M291.2 682.3 L324.1 664.0 L357.0 712.0" stroke-width="1.25"/>
<path d="M357.0 712.0 L390.0 739.5 L422.9 739.6 L455.8 743.5" stroke-width="1.7"/>
<path d="M455.8 743.5 L488.8 759.9 L521.7 836.9" stroke-width="1.6"/>
<path d="M521.7 836.9 L554.6 878.2 L587.5 883.4" stroke-width="1.5"/>
<rect x="90.4" y="720.8" width="6.3" height="6.3" stroke-width="1.4"/>
<rect x="123.4" y="701.9" width="6.3" height="6.3" stroke-width="1.4"/>
<rect x="156.3" y="683.4" width="6.3" height="6.3" stroke-width="1.4"/>
<rect x="189.2" y="655.6" width="6.3" height="6.3" stroke-width="1.4"/>
<rect x="222.2" y="682.1" width="6.3" height="6.3" stroke-width="1.4"/>
<rect x="255.1" y="663.3" width="6.3" height="6.3" stroke-width="1.4"/>
<rect x="288.0" y="679.2" width="6.3" height="6.3" stroke-width="1.4"/>
<rect x="321.0" y="660.9" width="6.3" height="6.3" stroke-width="1.4"/>
<rect x="353.9" y="708.8" width="6.3" height="6.3" stroke-width="1.4"/>
<rect x="386.8" y="736.4" width="6.3" height="6.3" stroke-width="1.4"/>
<rect x="419.8" y="736.5" width="6.3" height="6.3" stroke-width="1.4"/>
<rect x="452.7" y="740.4" width="6.3" height="6.3" stroke-width="1.4"/>
<rect x="485.6" y="756.8" width="6.3" height="6.3" stroke-width="1.4"/>
<rect x="518.5" y="833.8" width="6.3" height="6.3" stroke-width="1.4"/>
<rect x="551.5" y="875.1" width="6.3" height="6.3" stroke-width="1.4"/>
<rect x="584.4" y="880.3" width="6.3" height="6.3" stroke-width="1.4"/>
<path d="M93.6 724.4 L126.5 693.0 L159.5 687.0" stroke-width="1.25"/>
<path d="M159.5 687.0 L192.4 657.9" stroke-width="1.8"/>
<path d="M192.4 657.9 L225.3 689.8 L258.2 667.4" stroke-width="1.6"/>
<path d="M258.2 667.4 L291.2 682.6" stroke-width="1.8"/>
<path d="M291.2 682.6 L324.1 688.7 L357.0 713.0" stroke-width="1.25"/>
<path d="M357.0 713.0 L390.0 740.6 L422.9 740.3 L455.8 743.4" stroke-width="1.7"/>
<path d="M455.8 743.4 L488.8 762.9 L521.7 836.3" stroke-width="1.6"/>
<path d="M521.7 836.3 L554.6 877.3 L587.5 883.6" stroke-width="1.5"/>
<rect x="90.4" y="721.2" width="6.3" height="6.3" stroke-width="1.4"/>
<rect x="123.4" y="689.9" width="6.3" height="6.3" stroke-width="1.4"/>
<rect x="156.3" y="683.9" width="6.3" height="6.3" stroke-width="1.4"/>
<rect x="189.2" y="654.8" width="6.3" height="6.3" stroke-width="1.4"/>
<rect x="222.2" y="686.6" width="6.3" height="6.3" stroke-width="1.4"/>
<rect x="255.1" y="664.2" width="6.3" height="6.3" stroke-width="1.4"/>
<rect x="288.0" y="679.5" width="6.3" height="6.3" stroke-width="1.4"/>
<rect x="321.0" y="685.6" width="6.3" height="6.3" stroke-width="1.4"/>
<rect x="353.9" y="709.9" width="6.3" height="6.3" stroke-width="1.4"/>
<rect x="386.8" y="737.5" width="6.3" height="6.3" stroke-width="1.4"/>
<rect x="419.8" y="737.2" width="6.3" height="6.3" stroke-width="1.4"/>
<rect x="452.7" y="740.3" width="6.3" height="6.3" stroke-width="1.4"/>
<rect x="485.6" y="759.8" width="6.3" height="6.3" stroke-width="1.4"/>
<rect x="518.5" y="833.1" width="6.3" height="6.3" stroke-width="1.4"/>
<rect x="551.5" y="874.1" width="6.3" height="6.3" stroke-width="1.4"/>
<rect x="584.4" y="880.5" width="6.3" height="6.3" stroke-width="1.4"/>
<path d="M93.6 729.0 L126.5 709.0 L159.5 688.4" stroke-width="1.25"/>
<path d="M159.5 688.4 L192.4 658.4" stroke-width="1.8"/>
<path d="M192.4 658.4 L225.3 690.5 L258.2 668.2" stroke-width="1.6"/>
<path d="M258.2 668.2 L291.2 683.4" stroke-width="1.8"/>
<path d="M291.2 683.4 L324.1 688.9 L357.0 713.2" stroke-width="1.25"/>
<path d="M357.0 713.2 L390.0 743.1 L422.9 741.2 L455.8 744.7" stroke-width="1.7"/>
<path d="M455.8 744.7 L488.8 763.3 L521.7 836.2" stroke-width="1.6"/>
<path d="M521.7 836.2 L554.6 878.6 L587.5 884.8" stroke-width="1.5"/>
<rect x="90.4" y="725.9" width="6.3" height="6.3" stroke-width="1.4"/>
<rect x="123.4" y="705.9" width="6.3" height="6.3" stroke-width="1.4"/>
<rect x="156.3" y="685.2" width="6.3" height="6.3" stroke-width="1.4"/>
<rect x="189.2" y="655.2" width="6.3" height="6.3" stroke-width="1.4"/>
<rect x="222.2" y="687.4" width="6.3" height="6.3" stroke-width="1.4"/>
<rect x="255.1" y="665.0" width="6.3" height="6.3" stroke-width="1.4"/>
<rect x="288.0" y="680.3" width="6.3" height="6.3" stroke-width="1.4"/>
<rect x="321.0" y="685.8" width="6.3" height="6.3" stroke-width="1.4"/>
<rect x="353.9" y="710.1" width="6.3" height="6.3" stroke-width="1.4"/>
<rect x="386.8" y="740.0" width="6.3" height="6.3" stroke-width="1.4"/>
<rect x="419.8" y="738.0" width="6.3" height="6.3" stroke-width="1.4"/>
<rect x="452.7" y="741.6" width="6.3" height="6.3" stroke-width="1.4"/>
<rect x="485.6" y="760.1" width="6.3" height="6.3" stroke-width="1.4"/>
<rect x="518.5" y="833.1" width="6.3" height="6.3" stroke-width="1.4"/>
<rect x="551.5" y="875.5" width="6.3" height="6.3" stroke-width="1.4"/>
<rect x="584.4" y="881.6" width="6.3" height="6.3" stroke-width="1.4"/>
<path d="M93.6 729.5 L126.5 699.0 L159.5 688.2" stroke-width="1.25"/>
<path d="M159.5 688.2 L192.4 658.8" stroke-width="1.8"/>
<path d="M192.4 658.8 L225.3 688.0 L258.2 668.4" stroke-width="1.6"/>
<path d="M258.2 668.4 L291.2 683.1" stroke-width="1.8"/>
<path d="M291.2 683.1 L324.1 666.5 L357.0 714.1" stroke-width="1.25"/>
<path d="M357.0 714.1 L390.0 741.8 L422.9 743.1 L455.8 745.3" stroke-width="1.7"/>
<path d="M455.8 745.3 L488.8 763.1 L521.7 835.8" stroke-width="1.6"/>
<path d="M521.7 835.8 L554.6 879.5 L587.5 885.5" stroke-width="1.5"/>
<rect x="90.4" y="726.4" width="6.3" height="6.3" stroke-width="1.4"/>
<rect x="123.4" y="695.9" width="6.3" height="6.3" stroke-width="1.4"/>
<rect x="156.3" y="685.1" width="6.3" height="6.3" stroke-width="1.4"/>
<rect x="189.2" y="655.6" width="6.3" height="6.3" stroke-width="1.4"/>
<rect x="222.2" y="684.9" width="6.3" height="6.3" stroke-width="1.4"/>
<rect x="255.1" y="665.3" width="6.3" height="6.3" stroke-width="1.4"/>
<rect x="288.0" y="680.0" width="6.3" height="6.3" stroke-width="1.4"/>
<rect x="321.0" y="663.4" width="6.3" height="6.3" stroke-width="1.4"/>
<rect x="353.9" y="711.0" width="6.3" height="6.3" stroke-width="1.4"/>
<rect x="386.8" y="738.6" width="6.3" height="6.3" stroke-width="1.4"/>
<rect x="419.8" y="740.0" width="6.3" height="6.3" stroke-width="1.4"/>
<rect x="452.7" y="742.1" width="6.3" height="6.3" stroke-width="1.4"/>
<rect x="485.6" y="760.0" width="6.3" height="6.3" stroke-width="1.4"/>
<rect x="518.5" y="832.6" width="6.3" height="6.3" stroke-width="1.4"/>
<rect x="551.5" y="876.4" width="6.3" height="6.3" stroke-width="1.4"/>
<rect x="584.4" y="882.3" width="6.3" height="6.3" stroke-width="1.4"/>
<path d="M93.6 728.5 L126.5 702.0 L159.5 689.3" stroke-width="1.25"/>
<path d="M159.5 689.3 L192.4 659.6" stroke-width="1.8"/>
<path d="M192.4 659.6 L225.3 689.6 L258.2 669.6" stroke-width="1.6"/>
<path d="M258.2 669.6 L291.2 684.0" stroke-width="1.8"/>
<path d="M291.2 684.0 L324.1 692.2 L357.0 714.6" stroke-width="1.25"/>
<path d="M357.0 714.6 L390.0 742.9 L422.9 743.4 L455.8 746.1" stroke-width="1.7"/>
<path d="M455.8 746.1 L488.8 762.9 L521.7 838.9" stroke-width="1.6"/>
<path d="M521.7 838.9 L554.6 880.6 L587.5 886.1" stroke-width="1.5"/>
<rect x="90.4" y="725.4" width="6.3" height="6.3" stroke-width="1.4"/>
<rect x="123.4" y="698.9" width="6.3" height="6.3" stroke-width="1.4"/>
<rect x="156.3" y="686.1" width="6.3" height="6.3" stroke-width="1.4"/>
<rect x="189.2" y="656.5" width="6.3" height="6.3" stroke-width="1.4"/>
<rect x="222.2" y="686.5" width="6.3" height="6.3" stroke-width="1.4"/>
<rect x="255.1" y="666.5" width="6.3" height="6.3" stroke-width="1.4"/>
<rect x="288.0" y="680.8" width="6.3" height="6.3" stroke-width="1.4"/>
<rect x="321.0" y="689.1" width="6.3" height="6.3" stroke-width="1.4"/>
<rect x="353.9" y="711.4" width="6.3" height="6.3" stroke-width="1.4"/>
<rect x="386.8" y="739.8" width="6.3" height="6.3" stroke-width="1.4"/>
<rect x="419.8" y="740.3" width="6.3" height="6.3" stroke-width="1.4"/>
<rect x="452.7" y="742.9" width="6.3" height="6.3" stroke-width="1.4"/>
<rect x="485.6" y="759.8" width="6.3" height="6.3" stroke-width="1.4"/>
<rect x="518.5" y="835.8" width="6.3" height="6.3" stroke-width="1.4"/>
<rect x="551.5" y="877.4" width="6.3" height="6.3" stroke-width="1.4"/>
<rect x="584.4" y="882.9" width="6.3" height="6.3" stroke-width="1.4"/>
<path d="M93.6 734.8 L126.5 712.0 L159.5 689.8" stroke-width="1.25"/>
<path d="M159.5 689.8 L192.4 659.5" stroke-width="1.8"/>
<path d="M192.4 659.5 L225.3 693.4 L258.2 670.6" stroke-width="1.6"/>
<path d="M258.2 670.6 L291.2 685.7" stroke-width="1.8"/>
<path d="M291.2 685.7 L324.1 688.6 L357.0 715.0" stroke-width="1.25"/>
<path d="M357.0 715.0 L390.0 744.3 L422.9 743.0 L455.8 745.9" stroke-width="1.7"/>
<path d="M455.8 745.9 L488.8 764.8 L521.7 837.8" stroke-width="1.6"/>
<path d="M521.7 837.8 L554.6 880.2 L587.5 886.6" stroke-width="1.5"/>
<rect x="90.4" y="731.6" width="6.3" height="6.3" stroke-width="1.4"/>
<rect x="123.4" y="708.9" width="6.3" height="6.3" stroke-width="1.4"/>
<rect x="156.3" y="686.6" width="6.3" height="6.3" stroke-width="1.4"/>
<rect x="189.2" y="656.4" width="6.3" height="6.3" stroke-width="1.4"/>
<rect x="222.2" y="690.2" width="6.3" height="6.3" stroke-width="1.4"/>
<rect x="255.1" y="667.4" width="6.3" height="6.3" stroke-width="1.4"/>
<rect x="288.0" y="682.5" width="6.3" height="6.3" stroke-width="1.4"/>
<rect x="321.0" y="685.5" width="6.3" height="6.3" stroke-width="1.4"/>
<rect x="353.9" y="711.8" width="6.3" height="6.3" stroke-width="1.4"/>
<rect x="386.8" y="741.1" width="6.3" height="6.3" stroke-width="1.4"/>
<rect x="419.8" y="739.9" width="6.3" height="6.3" stroke-width="1.4"/>
<rect x="452.7" y="742.7" width="6.3" height="6.3" stroke-width="1.4"/>
<rect x="485.6" y="761.6" width="6.3" height="6.3" stroke-width="1.4"/>
<rect x="518.5" y="834.6" width="6.3" height="6.3" stroke-width="1.4"/>
<rect x="551.5" y="877.1" width="6.3" height="6.3" stroke-width="1.4"/>
<rect x="584.4" y="883.4" width="6.3" height="6.3" stroke-width="1.4"/>
<path d="M93.6 741.3 L126.5 714.5 L159.5 690.4" stroke-width="1.25"/>
<path d="M159.5 690.4 L192.4 660.7" stroke-width="1.8"/>
<path d="M192.4 660.7 L225.3 692.6 L258.2 671.6" stroke-width="1.6"/>
<path d="M258.2 671.6 L291.2 685.9" stroke-width="1.8"/>
<path d="M291.2 685.9 L324.1 665.0 L357.0 715.7" stroke-width="1.25"/>
<path d="M357.0 715.7 L390.0 742.9 L422.9 744.0 L455.8 746.7" stroke-width="1.7"/>
<path d="M455.8 746.7 L488.8 763.6 L521.7 843.0" stroke-width="1.6"/>
<path d="M521.7 843.0 L554.6 881.7 L587.5 887.8" stroke-width="1.5"/>
<rect x="90.4" y="738.1" width="6.3" height="6.3" stroke-width="1.4"/>
<rect x="123.4" y="711.4" width="6.3" height="6.3" stroke-width="1.4"/>
<rect x="156.3" y="687.2" width="6.3" height="6.3" stroke-width="1.4"/>
<rect x="189.2" y="657.6" width="6.3" height="6.3" stroke-width="1.4"/>
<rect x="222.2" y="689.5" width="6.3" height="6.3" stroke-width="1.4"/>
<rect x="255.1" y="668.4" width="6.3" height="6.3" stroke-width="1.4"/>
<rect x="288.0" y="682.8" width="6.3" height="6.3" stroke-width="1.4"/>
<rect x="321.0" y="661.9" width="6.3" height="6.3" stroke-width="1.4"/>
<rect x="353.9" y="712.5" width="6.3" height="6.3" stroke-width="1.4"/>
<rect x="386.8" y="739.8" width="6.3" height="6.3" stroke-width="1.4"/>
<rect x="419.8" y="740.9" width="6.3" height="6.3" stroke-width="1.4"/>
<rect x="452.7" y="743.5" width="6.3" height="6.3" stroke-width="1.4"/>
<rect x="485.6" y="760.5" width="6.3" height="6.3" stroke-width="1.4"/>
<rect x="518.5" y="839.9" width="6.3" height="6.3" stroke-width="1.4"/>
<rect x="551.5" y="878.5" width="6.3" height="6.3" stroke-width="1.4"/>
<rect x="584.4" y="884.7" width="6.3" height="6.3" stroke-width="1.4"/>
<path d="M93.6 719.0 L126.5 694.5 L159.5 689.6" stroke-width="1.25"/>
<path d="M159.5 689.6 L192.4 662.0" stroke-width="1.8"/>
<path d="M192.4 662.0 L225.3 695.0 L258.2 671.3" stroke-width="1.6"/>
<path d="M258.2 671.3 L291.2 686.3" stroke-width="1.8"/>
<path d="M291.2 686.3 L324.1 696.8 L357.0 717.0" stroke-width="1.25"/>
<path d="M357.0 717.0 L390.0 744.3 L422.9 745.1 L455.8 748.3" stroke-width="1.7"/>
<path d="M455.8 748.3 L488.8 764.6 L521.7 842.0" stroke-width="1.6"/>
<path d="M521.7 842.0 L554.6 881.9 L587.5 888.0" stroke-width="1.5"/>
<rect x="90.4" y="715.9" width="6.3" height="6.3" stroke-width="1.4"/>
<rect x="123.4" y="691.4" width="6.3" height="6.3" stroke-width="1.4"/>
<rect x="156.3" y="686.5" width="6.3" height="6.3" stroke-width="1.4"/>
<rect x="189.2" y="658.9" width="6.3" height="6.3" stroke-width="1.4"/>
<rect x="222.2" y="691.9" width="6.3" height="6.3" stroke-width="1.4"/>
<rect x="255.1" y="668.1" width="6.3" height="6.3" stroke-width="1.4"/>
<rect x="288.0" y="683.2" width="6.3" height="6.3" stroke-width="1.4"/>
<rect x="321.0" y="693.6" width="6.3" height="6.3" stroke-width="1.4"/>
<rect x="353.9" y="713.9" width="6.3" height="6.3" stroke-width="1.4"/>
<rect x="386.8" y="741.1" width="6.3" height="6.3" stroke-width="1.4"/>
<rect x="419.8" y="741.9" width="6.3" height="6.3" stroke-width="1.4"/>
<rect x="452.7" y="745.2" width="6.3" height="6.3" stroke-width="1.4"/>
<rect x="485.6" y="761.5" width="6.3" height="6.3" stroke-width="1.4"/>
<rect x="518.5" y="838.9" width="6.3" height="6.3" stroke-width="1.4"/>
<rect x="551.5" y="878.7" width="6.3" height="6.3" stroke-width="1.4"/>
<rect x="584.4" y="884.9" width="6.3" height="6.3" stroke-width="1.4"/>
<path d="M93.6 724.0 L126.5 700.5 L159.5 691.3" stroke-width="1.25"/>
<path d="M159.5 691.3 L192.4 661.1" stroke-width="1.8"/>
<path d="M192.4 661.1 L225.3 695.3 L258.2 672.6" stroke-width="1.6"/>
<path d="M258.2 672.6 L291.2 687.5" stroke-width="1.8"/>
<path d="M291.2 687.5 L324.1 697.5 L357.0 717.2" stroke-width="1.25"/>
<path d="M357.0 717.2 L390.0 746.5 L422.9 745.6 L455.8 748.6" stroke-width="1.7"/>
<path d="M455.8 748.6 L488.8 764.5 L521.7 845.0" stroke-width="1.6"/>
<path d="M521.7 845.0 L554.6 882.4 L587.5 889.4" stroke-width="1.5"/>
<rect x="90.4" y="720.9" width="6.3" height="6.3" stroke-width="1.4"/>
<rect x="123.4" y="697.4" width="6.3" height="6.3" stroke-width="1.4"/>
<rect x="156.3" y="688.1" width="6.3" height="6.3" stroke-width="1.4"/>
<rect x="189.2" y="658.0" width="6.3" height="6.3" stroke-width="1.4"/>
<rect x="222.2" y="692.1" width="6.3" height="6.3" stroke-width="1.4"/>
<rect x="255.1" y="669.4" width="6.3" height="6.3" stroke-width="1.4"/>
<rect x="288.0" y="684.4" width="6.3" height="6.3" stroke-width="1.4"/>
<rect x="321.0" y="694.4" width="6.3" height="6.3" stroke-width="1.4"/>
<rect x="353.9" y="714.1" width="6.3" height="6.3" stroke-width="1.4"/>
<rect x="386.8" y="743.4" width="6.3" height="6.3" stroke-width="1.4"/>
<rect x="419.8" y="742.4" width="6.3" height="6.3" stroke-width="1.4"/>
<rect x="452.7" y="745.5" width="6.3" height="6.3" stroke-width="1.4"/>
<rect x="485.6" y="761.4" width="6.3" height="6.3" stroke-width="1.4"/>
<rect x="518.5" y="841.9" width="6.3" height="6.3" stroke-width="1.4"/>
<rect x="551.5" y="879.2" width="6.3" height="6.3" stroke-width="1.4"/>
<rect x="584.4" y="886.2" width="6.3" height="6.3" stroke-width="1.4"/>
<path d="M93.6 729.2 L126.5 707.0 L159.5 690.8" stroke-width="1.25"/>
<path d="M159.5 690.8 L192.4 662.6" stroke-width="1.8"/>
<path d="M192.4 662.6 L225.3 696.5 L258.2 673.7" stroke-width="1.6"/>
<path d="M258.2 673.7 L291.2 688.6" stroke-width="1.8"/>
<path d="M291.2 688.6 L324.1 700.8 L357.0 718.8" stroke-width="1.25"/>
<path d="M357.0 718.8 L390.0 746.2 L422.9 748.4 L455.8 750.0" stroke-width="1.7"/>
<path d="M455.8 750.0 L488.8 767.9 L521.7 845.1" stroke-width="1.6"/>
<path d="M521.7 845.1 L554.6 883.4 L587.5 889.7" stroke-width="1.5"/>
<rect x="90.4" y="726.1" width="6.3" height="6.3" stroke-width="1.4"/>
<rect x="123.4" y="703.9" width="6.3" height="6.3" stroke-width="1.4"/>
<rect x="156.3" y="687.6" width="6.3" height="6.3" stroke-width="1.4"/>
<rect x="189.2" y="659.5" width="6.3" height="6.3" stroke-width="1.4"/>
<rect x="222.2" y="693.4" width="6.3" height="6.3" stroke-width="1.4"/>
<rect x="255.1" y="670.6" width="6.3" height="6.3" stroke-width="1.4"/>
<rect x="288.0" y="685.4" width="6.3" height="6.3" stroke-width="1.4"/>
<rect x="321.0" y="697.6" width="6.3" height="6.3" stroke-width="1.4"/>
<rect x="353.9" y="715.6" width="6.3" height="6.3" stroke-width="1.4"/>
<rect x="386.8" y="743.1" width="6.3" height="6.3" stroke-width="1.4"/>
<rect x="419.8" y="745.3" width="6.3" height="6.3" stroke-width="1.4"/>
<rect x="452.7" y="746.8" width="6.3" height="6.3" stroke-width="1.4"/>
<rect x="485.6" y="764.8" width="6.3" height="6.3" stroke-width="1.4"/>
<rect x="518.5" y="842.0" width="6.3" height="6.3" stroke-width="1.4"/>
<rect x="551.5" y="880.3" width="6.3" height="6.3" stroke-width="1.4"/>
<rect x="584.4" y="886.5" width="6.3" height="6.3" stroke-width="1.4"/>
<path d="M93.6 735.0 L126.5 710.5 L159.5 692.2 L192.4 663.6 L225.3 696.6 L258.2 676.1 L291.2 691.4 L324.1 698.4 L357.0 719.8 L390.0 747.0 L422.9 748.8 L455.8 751.3 L488.8 768.0 L521.7 847.0 L554.6 884.8 L587.5 892.0"/>
<rect x="90.4" y="731.9" width="6.3" height="6.3" stroke-width="1.4"/>
<rect x="123.4" y="707.4" width="6.3" height="6.3" stroke-width="1.4"/>
<rect x="156.3" y="689.1" width="6.3" height="6.3" stroke-width="1.4"/>
<rect x="189.2" y="660.5" width="6.3" height="6.3" stroke-width="1.4"/>
<rect x="222.2" y="693.5" width="6.3" height="6.3" stroke-width="1.4"/>
<rect x="255.1" y="672.9" width="6.3" height="6.3" stroke-width="1.4"/>
<rect x="288.0" y="688.3" width="6.3" height="6.3" stroke-width="1.4"/>
<rect x="321.0" y="695.2" width="6.3" height="6.3" stroke-width="1.4"/>
<rect x="353.9" y="716.6" width="6.3" height="6.3" stroke-width="1.4"/>
<rect x="386.8" y="743.9" width="6.3" height="6.3" stroke-width="1.4"/>
<rect x="419.8" y="745.7" width="6.3" height="6.3" stroke-width="1.4"/>
<rect x="452.7" y="748.1" width="6.3" height="6.3" stroke-width="1.4"/>
<rect x="485.6" y="764.9" width="6.3" height="6.3" stroke-width="1.4"/>
<rect x="518.5" y="843.9" width="6.3" height="6.3" stroke-width="1.4"/>
<rect x="551.5" y="881.6" width="6.3" height="6.3" stroke-width="1.4"/>
<rect x="584.4" y="888.9" width="6.3" height="6.3" stroke-width="1.4"/>
<path d="M93.6 734.8 L126.5 708.0 L159.5 692.8 L192.4 666.0 L225.3 699.0 L258.2 677.6 L291.2 693.0 L324.1 699.0 L357.0 721.6 L390.0 748.5 L422.9 755.3 L455.8 756.1 L488.8 762.5 L521.7 843.5 L554.6 885.9 L587.5 893.0"/>
<rect x="90.4" y="731.6" width="6.3" height="6.3" stroke-width="1.4"/>
<rect x="123.4" y="704.9" width="6.3" height="6.3" stroke-width="1.4"/>
<rect x="156.3" y="689.6" width="6.3" height="6.3" stroke-width="1.4"/>
<rect x="189.2" y="662.9" width="6.3" height="6.3" stroke-width="1.4"/>
<rect x="222.2" y="695.9" width="6.3" height="6.3" stroke-width="1.4"/>
<rect x="255.1" y="674.5" width="6.3" height="6.3" stroke-width="1.4"/>
<rect x="288.0" y="689.8" width="6.3" height="6.3" stroke-width="1.4"/>
<rect x="321.0" y="695.9" width="6.3" height="6.3" stroke-width="1.4"/>
<rect x="353.9" y="718.5" width="6.3" height="6.3" stroke-width="1.4"/>
<rect x="386.8" y="745.4" width="6.3" height="6.3" stroke-width="1.4"/>
<rect x="419.8" y="752.1" width="6.3" height="6.3" stroke-width="1.4"/>
<rect x="452.7" y="753.0" width="6.3" height="6.3" stroke-width="1.4"/>
<rect x="485.6" y="759.4" width="6.3" height="6.3" stroke-width="1.4"/>
<rect x="518.5" y="840.4" width="6.3" height="6.3" stroke-width="1.4"/>
<rect x="551.5" y="882.7" width="6.3" height="6.3" stroke-width="1.4"/>
<rect x="584.4" y="889.9" width="6.3" height="6.3" stroke-width="1.4"/>
<path d="M93.6 747.8 L126.5 706.0 L159.5 694.0 L192.4 670.2 L225.3 700.6 L258.2 678.7 L291.2 694.2 L324.1 700.5 L357.0 722.9 L390.0 754.9 L422.9 759.3 L455.8 760.4 L488.8 764.0 L521.7 845.0 L554.6 887.4 L587.5 894.4"/>
<rect x="90.4" y="744.6" width="6.3" height="6.3" stroke-width="1.4"/>
<rect x="123.4" y="702.9" width="6.3" height="6.3" stroke-width="1.4"/>
<rect x="156.3" y="690.9" width="6.3" height="6.3" stroke-width="1.4"/>
<rect x="189.2" y="667.1" width="6.3" height="6.3" stroke-width="1.4"/>
<rect x="222.2" y="697.5" width="6.3" height="6.3" stroke-width="1.4"/>
<rect x="255.1" y="675.6" width="6.3" height="6.3" stroke-width="1.4"/>
<rect x="288.0" y="691.0" width="6.3" height="6.3" stroke-width="1.4"/>
<rect x="321.0" y="697.4" width="6.3" height="6.3" stroke-width="1.4"/>
<rect x="353.9" y="719.8" width="6.3" height="6.3" stroke-width="1.4"/>
<rect x="386.8" y="751.8" width="6.3" height="6.3" stroke-width="1.4"/>
<rect x="419.8" y="756.1" width="6.3" height="6.3" stroke-width="1.4"/>
<rect x="452.7" y="757.3" width="6.3" height="6.3" stroke-width="1.4"/>
<rect x="485.6" y="760.9" width="6.3" height="6.3" stroke-width="1.4"/>
<rect x="518.5" y="841.9" width="6.3" height="6.3" stroke-width="1.4"/>
<rect x="551.5" y="884.3" width="6.3" height="6.3" stroke-width="1.4"/>
<rect x="584.4" y="891.2" width="6.3" height="6.3" stroke-width="1.4"/>
<path d="M93.6 755.5 L126.5 697.9 L159.5 701.3 L192.4 682.5 L225.3 678.9 L258.2 689.6 L291.2 705.1 L324.1 703.0 L357.0 732.4 L390.0 761.4 L422.9 763.2 L455.8 764.1 L488.8 767.0 L521.7 847.5 L554.6 890.0 L587.5 899.6"/>
<rect x="90.4" y="752.4" width="6.3" height="6.3" stroke-width="1.4"/>
<rect x="123.4" y="694.8" width="6.3" height="6.3" stroke-width="1.4"/>
<rect x="156.3" y="698.1" width="6.3" height="6.3" stroke-width="1.4"/>
<rect x="189.2" y="679.4" width="6.3" height="6.3" stroke-width="1.4"/>
<rect x="222.2" y="675.8" width="6.3" height="6.3" stroke-width="1.4"/>
<rect x="255.1" y="686.4" width="6.3" height="6.3" stroke-width="1.4"/>
<rect x="288.0" y="702.0" width="6.3" height="6.3" stroke-width="1.4"/>
<rect x="321.0" y="699.9" width="6.3" height="6.3" stroke-width="1.4"/>
<rect x="353.9" y="729.2" width="6.3" height="6.3" stroke-width="1.4"/>
<rect x="386.8" y="758.2" width="6.3" height="6.3" stroke-width="1.4"/>
<rect x="419.8" y="760.0" width="6.3" height="6.3" stroke-width="1.4"/>
<rect x="452.7" y="760.9" width="6.3" height="6.3" stroke-width="1.4"/>
<rect x="485.6" y="763.9" width="6.3" height="6.3" stroke-width="1.4"/>
<rect x="518.5" y="844.4" width="6.3" height="6.3" stroke-width="1.4"/>
<rect x="551.5" y="886.8" width="6.3" height="6.3" stroke-width="1.4"/>
<rect x="584.4" y="896.4" width="6.3" height="6.3" stroke-width="1.4"/>
<path d="M93.6 763.7 L126.5 700.8 L159.5 710.0 L192.4 690.4 L225.3 686.8 L258.2 700.3 L291.2 715.1 L324.1 704.6 L357.0 741.0 L390.0 767.9 L422.9 773.1 L455.8 772.5 L488.8 771.3 L521.7 849.5 L554.6 892.5 L587.5 905.8"/>
<rect x="90.4" y="760.6" width="6.3" height="6.3" stroke-width="1.4"/>
<rect x="123.4" y="697.6" width="6.3" height="6.3" stroke-width="1.4"/>
<rect x="156.3" y="706.9" width="6.3" height="6.3" stroke-width="1.4"/>
<rect x="189.2" y="687.2" width="6.3" height="6.3" stroke-width="1.4"/>
<rect x="222.2" y="683.6" width="6.3" height="6.3" stroke-width="1.4"/>
<rect x="255.1" y="697.2" width="6.3" height="6.3" stroke-width="1.4"/>
<rect x="288.0" y="711.9" width="6.3" height="6.3" stroke-width="1.4"/>
<rect x="321.0" y="701.5" width="6.3" height="6.3" stroke-width="1.4"/>
<rect x="353.9" y="737.8" width="6.3" height="6.3" stroke-width="1.4"/>
<rect x="386.8" y="764.8" width="6.3" height="6.3" stroke-width="1.4"/>
<rect x="419.8" y="769.9" width="6.3" height="6.3" stroke-width="1.4"/>
<rect x="452.7" y="769.3" width="6.3" height="6.3" stroke-width="1.4"/>
<rect x="485.6" y="768.1" width="6.3" height="6.3" stroke-width="1.4"/>
<rect x="518.5" y="846.4" width="6.3" height="6.3" stroke-width="1.4"/>
<rect x="551.5" y="889.4" width="6.3" height="6.3" stroke-width="1.4"/>
<rect x="584.4" y="902.7" width="6.3" height="6.3" stroke-width="1.4"/>
</g>
<rect x="60.6" y="2.0" width="560.50" height="431.70" fill="none" stroke="#000" stroke-width="3.5"/>
<path d="M97.50 2.0 v10.95 M97.50 433.7 v-13.45 M134.90 2.0 v10.95 M134.90 433.7 v-13.45 M172.30 2.0 v10.95 M172.30 433.7 v-13.45 M209.70 2.0 v10.95 M209.70 433.7 v-13.45 M247.10 2.0 v10.95 M247.10 433.7 v-13.45 M284.50 2.0 v10.95 M284.50 433.7 v-13.45 M321.90 2.0 v10.95 M321.90 433.7 v-13.45 M359.30 2.0 v10.95 M359.30 433.7 v-13.45 M396.70 2.0 v10.95 M396.70 433.7 v-13.45 M434.10 2.0 v10.95 M434.10 433.7 v-13.45 M471.50 2.0 v10.95 M471.50 433.7 v-13.45 M508.90 2.0 v10.95 M508.90 433.7 v-13.45 M546.30 2.0 v10.95 M546.30 433.7 v-13.45 M583.70 2.0 v10.95 M583.70 433.7 v-13.45 M60.6 423.31 h7.55 M621.1 423.31 h-7.55 M60.6 414.02 h7.55 M621.1 414.02 h-7.55 M60.6 405.83 h7.55 M621.1 405.83 h-7.55 M60.6 398.50 h14.75 M621.1 398.50 h-14.75 M60.6 350.29 h7.55 M621.1 350.29 h-7.55 M60.6 322.09 h7.55 M621.1 322.09 h-7.55 M60.6 302.08 h7.55 M621.1 302.08 h-7.55 M60.6 286.56 h7.55 M621.1 286.56 h-7.55 M60.6 273.88 h7.55 M621.1 273.88 h-7.55 M60.6 263.16 h7.55 M621.1 263.16 h-7.55 M60.6 253.87 h7.55 M621.1 253.87 h-7.55 M60.6 245.68 h7.55 M621.1 245.68 h-7.55 M60.6 238.35 h14.75 M621.1 238.35 h-14.75 M60.6 190.14 h7.55 M621.1 190.14 h-7.55 M60.6 161.94 h7.55 M621.1 161.94 h-7.55 M60.6 141.93 h7.55 M621.1 141.93 h-7.55 M60.6 126.41 h7.55 M621.1 126.41 h-7.55 M60.6 113.73 h7.55 M621.1 113.73 h-7.55 M60.6 103.01 h7.55 M621.1 103.01 h-7.55 M60.6 93.72 h7.55 M621.1 93.72 h-7.55 M60.6 85.53 h7.55 M621.1 85.53 h-7.55 M60.6 78.20 h14.75 M621.1 78.20 h-14.75 M60.6 29.99 h7.55 M621.1 29.99 h-7.55" fill="none" stroke="#000" stroke-width="2.7"/>
<rect x="60.6" y="537.8" width="560.20" height="431.30" fill="none" stroke="#000" stroke-width="3.5"/>
<path d="M93.60 537.8 v9.45 M93.60 969.1 v-9.05 M126.53 537.8 v9.45 M126.53 969.1 v-9.05 M159.46 537.8 v9.45 M159.46 969.1 v-9.05 M192.39 537.8 v9.45 M192.39 969.1 v-9.05 M225.32 537.8 v9.45 M225.32 969.1 v-9.05 M258.25 537.8 v9.45 M258.25 969.1 v-9.05 M291.18 537.8 v9.45 M291.18 969.1 v-9.05 M324.11 537.8 v9.45 M324.11 969.1 v-9.05 M357.04 537.8 v9.45 M357.04 969.1 v-9.05 M389.97 537.8 v9.45 M389.97 969.1 v-9.05 M422.90 537.8 v9.45 M422.90 969.1 v-9.05 M455.83 537.8 v9.45 M455.83 969.1 v-9.05 M488.76 537.8 v9.45 M488.76 969.1 v-9.05 M521.69 537.8 v9.45 M521.69 969.1 v-9.05 M554.62 537.8 v9.45 M554.62 969.1 v-9.05 M587.55 537.8 v9.45 M587.55 969.1 v-9.05 M60.6 959.58 h7.55 M620.8 959.58 h-7.55 M60.6 951.20 h7.55 M620.8 951.20 h-7.55 M60.6 943.70 h14.75 M620.8 943.70 h-14.75 M60.6 894.36 h7.55 M620.8 894.36 h-7.55 M60.6 865.50 h7.55 M620.8 865.50 h-7.55 M60.6 845.02 h7.55 M620.8 845.02 h-7.55 M60.6 829.14 h7.55 M620.8 829.14 h-7.55 M60.6 816.16 h7.55 M620.8 816.16 h-7.55 M60.6 805.19 h7.55 M620.8 805.19 h-7.55 M60.6 795.68 h7.55 M620.8 795.68 h-7.55 M60.6 787.30 h7.55 M620.8 787.30 h-7.55 M60.6 779.80 h14.75 M620.8 779.80 h-14.75 M60.6 730.46 h7.55 M620.8 730.46 h-7.55 M60.6 701.60 h7.55 M620.8 701.60 h-7.55 M60.6 681.12 h7.55 M620.8 681.12 h-7.55 M60.6 665.24 h7.55 M620.8 665.24 h-7.55 M60.6 652.26 h7.55 M620.8 652.26 h-7.55 M60.6 641.29 h7.55 M620.8 641.29 h-7.55 M60.6 631.78 h7.55 M620.8 631.78 h-7.55 M60.6 623.40 h7.55 M620.8 623.40 h-7.55 M60.6 615.90 h14.75 M620.8 615.90 h-14.75 M60.6 566.56 h7.55 M620.8 566.56 h-7.55" fill="none" stroke="#000" stroke-width="2.7"/>
<path d="M75.8 943.70 H619.05" stroke="#000" stroke-width="2.5" stroke-dasharray="15.8 7.77" fill="none"/>
<text x="88.8" y="463.2" font-size="22" text-anchor="start" font-weight="normal" >La</text>
<text x="125.3" y="463.2" font-size="22" text-anchor="start" font-weight="normal" >Ce</text>
<text x="163.4" y="463.2" font-size="22" text-anchor="start" font-weight="normal" >Pr</text>
<text x="199.9" y="463.2" font-size="22" text-anchor="start" font-weight="normal" >Nd</text>
<text x="238.8" y="463.2" font-size="22" text-anchor="start" font-weight="normal" >Sm</text>
<text x="276.1" y="463.2" font-size="22" text-anchor="start" font-weight="normal" >Eu</text>
<text x="313.1" y="463.2" font-size="22" text-anchor="start" font-weight="normal" >Gd</text>
<text x="349.9" y="463.2" font-size="22" text-anchor="start" font-weight="normal" >Tb</text>
<text x="388.0" y="463.2" font-size="22" text-anchor="start" font-weight="normal" >Dy</text>
<text x="425.3" y="463.2" font-size="22" text-anchor="start" font-weight="normal" >Ho</text>
<text x="462.6" y="463.2" font-size="22" text-anchor="start" font-weight="normal" >Er</text>
<text x="500.0" y="463.2" font-size="22" text-anchor="start" font-weight="normal" >Tm</text>
<text x="537.7" y="463.2" font-size="22" text-anchor="start" font-weight="normal" >Yb</text>
<text x="575.0" y="463.2" font-size="22" text-anchor="start" font-weight="normal" >Lu</text>
<text x="80.6" y="996.2" font-size="22" text-anchor="start" font-weight="normal" >Rb</text>
<text x="116.1" y="996.2" font-size="22" text-anchor="start" font-weight="normal" >Ba</text>
<text x="151.3" y="996.2" font-size="22" text-anchor="start" font-weight="normal" >Th</text>
<text x="186.0" y="996.2" font-size="22" text-anchor="start" font-weight="normal" >Nb</text>
<text x="223.1" y="996.2" font-size="22" text-anchor="start" font-weight="normal" >K</text>
<text x="250.2" y="996.2" font-size="22" text-anchor="start" font-weight="normal" >La</text>
<text x="284.1" y="996.2" font-size="22" text-anchor="start" font-weight="normal" >Ce</text>
<text x="319.1" y="996.2" font-size="22" text-anchor="start" font-weight="normal" >Sr</text>
<text x="349.3" y="996.2" font-size="22" text-anchor="start" font-weight="normal" >Nd</text>
<text x="386.6" y="996.2" font-size="22" text-anchor="start" font-weight="normal" >Zr</text>
<text x="419.5" y="996.2" font-size="22" text-anchor="start" font-weight="normal" >Sm</text>
<text x="457.8" y="996.2" font-size="22" text-anchor="start" font-weight="normal" >Eu</text>
<text x="493.2" y="996.2" font-size="22" text-anchor="start" font-weight="normal" >Ti</text>
<text x="524.0" y="996.2" font-size="22" text-anchor="start" font-weight="normal" >Y</text>
<text x="552.3" y="996.2" font-size="22" text-anchor="start" font-weight="normal" >Yb</text>
<text x="587.0" y="996.2" font-size="22" text-anchor="start" font-weight="normal" >Lu</text>
<text transform="translate(53.34 85.90) scale(1 1.076)" font-size="22.4" text-anchor="end">100</text>
<text transform="translate(53.35 246.10) scale(1 1.025)" font-size="22.8" text-anchor="end">10</text>
<text transform="translate(54.18 406.50) scale(1 0.999)" font-size="22.5" text-anchor="end">1</text>
<text transform="translate(53.15 625.30) scale(1 1.034)" font-size="22.9" text-anchor="end">100</text>
<text transform="translate(52.56 788.90) scale(1 1.001)" font-size="23.2" text-anchor="end">10</text>
<text transform="translate(52.83 950.40) scale(1 1.001)" font-size="22.9" text-anchor="end">1</text>
<text transform="translate(16.6 344.7) rotate(-90)" font-size="22.6" font-weight="bold">Rock /<tspan dx="-3.6"> Primitive</tspan><tspan dx="2.4"> mantle</tspan></text>
<text transform="translate(16.6 891.6) rotate(-90)" font-size="22.6" font-weight="bold">Rock /<tspan dx="-3.6"> Primitive</tspan><tspan dx="3.4"> mantle</tspan></text>
<text x="82.6" y="33.0" font-size="23.5" text-anchor="start" font-weight="normal" >(a)</text>
<text x="81.9" y="579.2" font-size="23.5" text-anchor="start" font-weight="normal" >(b)</text>
<text x="252.0" y="929.8" font-size="24" text-anchor="start" font-weight="normal" >Primitive mantle</text>
<rect x="413" y="569.1" width="188" height="66.4" fill="#fff" stroke="#000" stroke-width="2.3"/>
<rect x="431.0" y="584.5" width="7.8" height="7.8" rx="1" fill="#fff" stroke="#000" stroke-width="1.7"/>
<rect x="422.1" y="607.1" width="27.2" height="13.2" fill="#adadad" stroke="#000" stroke-width="1.6"/>
<text transform="translate(457.4 593.5) scale(1 0.96)" font-size="19.45">Euphrates basalts</text>
<text transform="translate(457.2 618.3) scale(1 0.96)" font-size="19.5">St Helena basalts</text>
</svg></body></html>
